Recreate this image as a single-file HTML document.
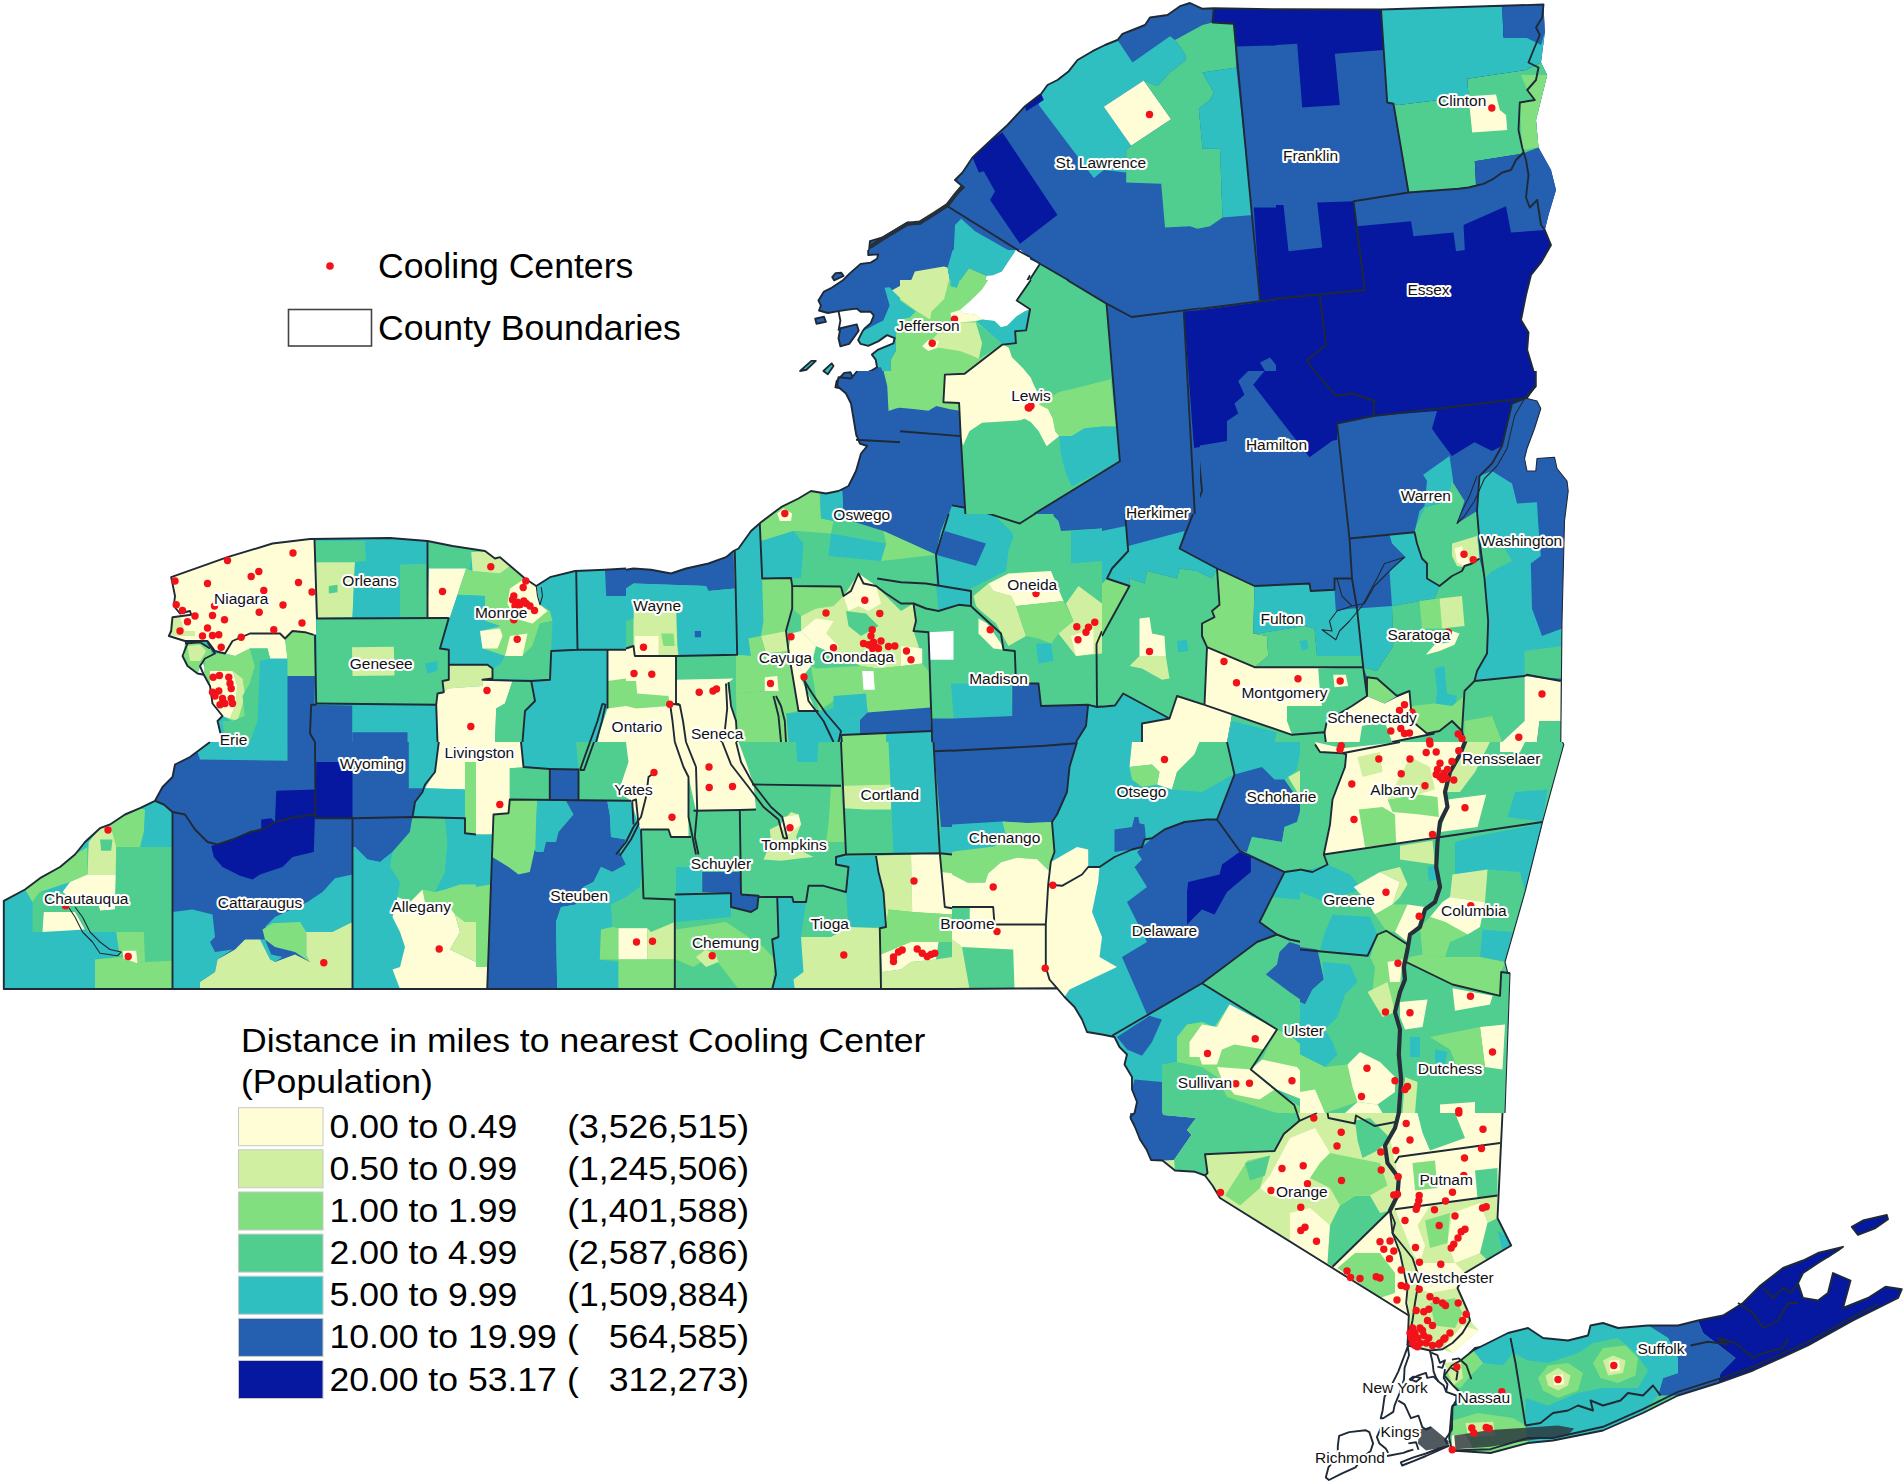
<!DOCTYPE html>
<html><head><meta charset="utf-8">
<style>
html,body{margin:0;padding:0;background:#fff;}
body{width:1904px;height:1484px;overflow:hidden;font-family:"Liberation Sans",sans-serif;}
svg{display:block;position:absolute;left:0;top:0;}
.c1{fill:#fffdd6}.c2{fill:#d0efa0}.c3{fill:#82df80}.c4{fill:#50ce90}.c5{fill:#30bfc0}.c6{fill:#2560b0}.c7{fill:#0618a0}
.w{fill:#fff}
.b{fill:none;stroke:#1f2a36;stroke-width:1.9;stroke-linejoin:round}
.bt{fill:none;stroke:#1f2a36;stroke-width:1.1;stroke-linejoin:round}
.bk{fill:none;stroke:#26303a;stroke-width:4.2;stroke-linejoin:round;stroke-linecap:round}
.dk{fill:#2b353d;opacity:.82}
.d{fill:#f2121a}
.lg{font-size:34px;fill:#000}
.lb{font-size:15.5px;fill:#111;paint-order:stroke;stroke:#fff;stroke-width:4.2px;stroke-linejoin:round;text-anchor:middle}
</style></head><body>
<svg width="1904" height="1484" viewBox="0 0 1904 1484">
<defs><clipPath id="tc"><rect x="-2" y="-2" width="1908" height="1488"/></clipPath></defs>
<clipPath id="cp_A1"><rect x="799.5" y="-0.5" width="477.0" height="372.0"/></clipPath><g clip-path="url(#cp_A1)">
<polygon class="c6" points="1276.0,9.2 1213.8,8.2 1202.5,8.8 1190.0,3.0 1180.0,6.2 1167.5,15.0 1150.0,17.5 1145.0,25.0 1132.5,30.0 1122.5,33.8 1117.5,40.0 1105.0,45.0 1092.5,51.2 1077.5,60.0 1068.8,71.2 1057.5,80.0 1047.5,85.0 1041.2,93.8 1025.0,106.2 1007.5,125.0 992.5,138.8 972.5,157.5 962.5,172.5 955.0,180.0 963.8,187.5 952.5,197.5 947.5,206.2 935.0,212.5 920.0,223.8 907.5,222.5 895.0,230.0 882.5,237.5 870.0,241.2 868.8,252.5 882.5,253.8 872.5,261.2 857.5,268.8 841.2,276.2 820.0,298.8 818.8,302.5 823.8,307.5 830.0,315.0 840.0,327.5 837.5,347.5 850.0,345.0 857.5,335.0 875.0,335.0 875.0,371.0 1276.0,371.0"/>
<polygon class="c5" points="1041.2,93.8 1047.5,85.0 1057.5,80.0 1068.8,71.2 1077.5,60.0 1092.5,51.2 1105.0,45.0 1117.5,40.0 1120.0,43.8 1132.5,62.5 1170.0,36.2 1175.0,40.0 1185.0,53.8 1186.2,60.0 1170.0,72.5 1157.5,86.2 1143.8,80.5 1103.8,106.8 1131.2,145.8 1126.2,150.0 1126.2,172.5 1103.8,170.0 1093.8,178.0 1038.8,105.0"/>
<polygon class="c1" points="1143.8,80.5 1171.2,119.2 1131.2,145.8 1103.8,106.8"/>
<polygon class="c4" points="1175.0,40.0 1202.5,25.0 1212.5,22.5 1233.8,23.8 1236.2,67.5 1202.5,72.5 1213.8,92.5 1210.0,100.0 1198.8,108.8 1202.5,148.8 1220.0,148.8 1222.5,217.5 1210.0,226.2 1197.5,228.8 1190.0,226.2 1165.0,227.5 1161.2,183.8 1126.2,182.5 1126.2,150.0 1131.2,145.8 1171.2,119.2 1143.8,80.5 1157.5,86.2 1170.0,72.5 1186.2,60.0 1185.0,53.8"/>
<polygon class="c5" points="1202.5,72.5 1236.2,67.5 1252.5,215.0 1222.5,217.5 1220.0,148.8 1202.5,148.8 1198.8,108.8 1210.0,100.0 1213.8,92.5"/>
<polygon class="c7" points="972.5,157.5 992.5,138.8 1002.5,132.5 1057.5,215.0 1020.0,243.8 990.0,200.0 995.0,191.2 983.8,171.2 978.8,172.5"/>
<polygon class="c7" points="1025.0,106.2 1041.2,93.8 1043.8,100.0 1026.2,111.2"/>
<polygon class="c7" points="1213.8,8.2 1276.0,9.2 1276.0,45.5 1236.2,46.5 1233.8,23.8 1212.5,22.5"/>
<polygon class="c7" points="1253.8,207.5 1276.0,207.5 1276.0,300.0 1260.0,300.0"/>
<polygon class="c7" points="1182.5,312.5 1276.0,300.0 1276.0,371.0 1188.8,371.0"/>
<polygon class="c6" points="1260.0,362.5 1270.0,357.5 1276.0,365.0 1276.0,371.0 1265.0,371.0"/>
<polygon class="c5" points="961.2,218.8 975.0,231.2 1012.5,252.5 1002.5,265.0 995.0,277.5 987.5,276.2 972.5,268.8 967.5,275.0 957.5,287.5 950.0,282.5 953.8,250.0 955.0,225.0"/>
<polygon class="c2" points="891.2,290.0 920.0,277.5 942.5,266.2 951.2,283.8 943.8,296.2 937.5,308.8 930.0,312.5 912.5,311.2 907.5,303.8"/>
<polygon class="c3" points="943.8,296.2 951.2,283.8 957.5,287.5 967.5,275.0 972.5,268.8 987.5,276.2 982.5,291.2 972.5,300.0 962.5,308.8 952.5,317.5 935.0,318.8 930.0,312.5 937.5,308.8"/>
<polygon class="w" points="1012.5,252.5 1040.0,263.8 1017.5,298.8 1023.8,303.8 1030.0,310.0 1017.5,315.0 1007.5,327.5 997.5,327.5 992.5,318.8 982.5,322.5 975.0,321.2 965.0,320.0 962.5,308.8 972.5,300.0 982.5,291.2 987.5,276.2 995.0,277.5 1002.5,265.0"/>
<polygon class="c5" points="885.0,290.0 891.2,290.0 907.5,303.8 912.5,311.2 900.0,322.5 890.0,335.0 875.0,335.0 860.0,340.0 857.5,335.0 875.0,322.5 885.0,307.5"/>
<polygon class="c3" points="890.0,335.0 900.0,322.5 912.5,311.2 930.0,312.5 935.0,318.8 952.5,317.5 950.0,322.5 975.0,322.5 980.0,355.0 975.0,371.0 890.0,371.0"/>
<polygon class="c2" points="935.0,345.0 950.0,322.5 975.0,322.5 980.0,347.5 985.0,357.5 975.0,362.5 960.0,350.0 940.0,348.8"/>
<polygon class="c4" points="975.0,322.5 992.5,318.8 997.5,327.5 1007.5,327.5 1015.0,342.5 1008.8,346.2 985.0,357.5 980.0,347.5"/>
<polygon class="c5" points="1007.5,327.5 1017.5,315.0 1030.0,310.0 1026.2,325.0 1016.2,330.0 1015.0,342.5"/>
<polygon class="c4" points="1040.0,263.8 1103.8,301.2 1111.2,371.0 1020.0,371.0 1010.0,355.0 1008.8,346.2 1015.0,342.5 1016.2,330.0 1026.2,325.0 1030.0,310.0 1017.5,298.8"/>
<polygon class="c1" points="1008.8,346.2 1010.0,355.0 1020.0,371.0 972.5,371.0"/>
<polyline class="b" points="1276.0,9.2 1213.8,8.2 1202.5,8.8 1190.0,3.0 1180.0,6.2 1167.5,15.0 1150.0,17.5 1145.0,25.0 1132.5,30.0 1122.5,33.8 1117.5,40.0 1105.0,45.0 1092.5,51.2 1077.5,60.0 1068.8,71.2 1057.5,80.0 1047.5,85.0 1041.2,93.8 1025.0,106.2 1007.5,125.0 992.5,138.8 972.5,157.5 962.5,172.5 955.0,180.0 963.8,187.5 952.5,197.5 947.5,206.2 935.0,212.5 920.0,223.8 907.5,222.5 895.0,230.0 882.5,237.5 870.0,241.2 868.8,252.5 882.5,253.8 872.5,261.2 857.5,268.8 841.2,276.2 820.0,298.8 818.8,302.5 823.8,307.5 830.0,315.0 840.0,327.5 837.5,347.5 850.0,345.0 857.5,335.0 875.0,335.0 875.0,371.0"/>
<polyline class="b" points="947.5,206.2 1040.0,263.8 1132.5,317.5 1276.0,299.2"/>
<polyline class="b" points="1213.8,8.2 1212.5,22.5 1233.8,23.8 1260.0,300.0"/>
<polyline class="b" points="1040.0,263.8 1017.5,298.8 1023.8,303.8 1030.0,310.0 1026.2,325.0 1016.2,330.0 1015.0,342.5 1008.8,346.2 972.5,371.0"/>
<polyline class="b" points="1103.8,301.2 1111.2,371.0"/>
<polyline class="b" points="1182.5,312.5 1188.8,371.0"/>
<polyline class="bk" points="871.2,246.2 882.5,238.8 895.0,231.2 907.5,223.8 920.0,222.5 935.0,213.2 947.5,205.0 956.2,193.8 962.0,187.0"/>
</g>
<clipPath id="cp_A1b"><rect x="789.5" y="249.5" width="241.0" height="188.0"/></clipPath><g clip-path="url(#cp_A1b)">
<polygon class="w" points="790.0,250.0 1030.0,250.0 1030.0,437.1 790.0,437.1"/>
<polygon class="c6" points="868.2,250.0 868.2,255.0 878.2,254.4 877.0,258.8 870.7,262.6 860.6,263.9 849.2,273.9 842.9,280.3 831.6,287.8 824.0,291.6 818.4,300.4 820.9,305.5 819.0,310.5 827.8,313.0 838.5,311.1 846.7,309.9 856.8,308.6 860.6,311.8 870.7,311.8 873.8,315.5 870.7,323.1 864.4,328.8 862.5,331.3 858.1,340.1 860.6,343.9 868.2,345.8 878.2,341.4 887.1,335.1 894.6,338.2 893.4,343.3 878.2,349.6 871.9,354.6 875.7,359.7 877.0,367.2 870.7,371.0 858.1,376.1 854.9,381.7 850.5,372.3 844.2,372.9 836.6,381.1 835.4,387.4 842.9,388.7 850.5,396.2 853.0,407.6 856.8,437.1 1030.0,437.1 1030.0,250.0"/>
<polygon class="c6" points="840.4,328.2 856.8,324.4 858.7,330.7 849.2,343.9 840.4,346.4 838.5,338.2"/>
<polygon class="c6" points="815.2,318.7 824.0,316.8 825.9,321.8 816.5,323.7"/>
<polygon class="c6" points="832.2,277.1 835.4,273.3 841.1,272.7 843.6,275.8 834.1,280.3"/>
<polygon class="c5" points="800.1,371.0 811.4,360.9 815.8,360.9 806.4,369.7"/>
<polygon class="c5" points="823.4,371.0 831.6,363.4 833.5,366.0 827.8,374.2"/>
<polygon class="c5" points="884.5,287.8 889.6,287.2 898.4,296.6 913.5,309.2 911.0,313.0 900.9,320.6 897.1,325.6 895.9,335.7 894.6,338.2 887.1,335.1 878.2,341.4 868.2,345.8 860.6,343.9 858.1,340.1 862.5,331.3 870.7,326.9 878.2,323.1 883.3,320.6 889.6,305.5"/>
<polygon class="c5" points="894.6,338.2 895.9,335.7 895.9,350.8 890.8,359.7 890.8,371.0 883.3,372.9 880.8,367.2 877.0,367.2 875.7,359.7 871.9,354.6 878.2,349.6 893.4,343.3"/>
<polygon class="c2" points="892.1,290.3 911.6,279.6 914.8,271.4 943.8,266.4 947.6,267.6 950.1,281.5 943.8,289.1 940.0,302.9 931.2,311.8 930.5,316.8 918.6,316.8 913.5,309.2 898.4,296.6"/>
<polygon class="c5" points="947.6,267.6 950.1,281.5 955.1,286.6 960.2,280.3 969.0,268.3 986.6,275.8 992.9,275.2 1001.8,271.4 1009.3,260.1 1014.4,252.5 1015.6,250.0 952.6,250.0"/>
<polygon class="c3" points="950.1,281.5 955.1,286.6 960.2,280.3 969.0,268.3 986.6,275.8 984.1,285.3 979.1,291.6 971.5,300.4 963.9,308.0 952.6,310.5 947.6,315.5 940.0,315.5 930.5,316.8 931.2,311.8 940.0,302.9 943.8,289.1"/>
<polygon class="w" points="1015.6,250.0 1020.7,250.0 1030.0,257.6 1030.0,275.2 1016.9,300.4 1025.7,305.5 1024.5,311.8 1016.9,315.5 1009.3,321.8 1006.8,328.2 996.7,329.4 991.7,320.6 984.1,320.6 975.3,316.8 963.9,315.5 957.6,313.0 963.9,308.0 971.5,300.4 979.1,291.6 984.1,285.3 986.6,275.8 992.9,275.2 1001.8,271.4 1009.3,260.1 1014.4,252.5"/>
<polygon class="c6" points="1020.7,250.0 1030.0,250.0 1030.0,257.6"/>
<polygon class="c3" points="895.9,335.7 897.1,325.6 900.9,320.6 911.0,313.0 918.6,316.8 930.5,316.8 940.0,315.5 947.6,315.5 950.1,320.6 928.7,333.2 927.4,338.2 922.4,345.8 927.4,350.8 933.7,349.6 940.0,347.1 953.9,348.3 969.0,352.1 977.8,358.4 979.1,358.4 966.5,372.9 945.0,373.5 943.2,401.9 950.7,403.2 950.1,410.1 938.7,406.3 931.2,406.9 926.1,410.1 900.9,407.6 890.8,410.1 888.3,401.3 889.6,392.4 883.3,383.6 883.3,372.9 890.8,371.0 890.8,359.7 895.9,350.8"/>
<polygon class="c1" points="950.1,313.0 953.9,310.5 957.6,313.0 963.9,315.5 957.6,320.6 950.1,320.6"/>
<polygon class="c2" points="957.6,320.6 963.9,315.5 975.3,316.8 976.6,330.7 981.6,350.8 977.8,358.4 969.0,352.1 953.9,348.3 940.0,347.1 933.7,349.6 940.0,340.8 927.4,338.2 928.7,333.2 950.1,320.6"/>
<polygon class="c1" points="922.4,345.8 927.4,338.2 940.0,340.8 933.7,349.6 927.4,350.8"/>
<polygon class="c4" points="975.3,323.1 984.1,320.6 991.7,320.6 996.7,329.4 1004.3,340.8 1006.8,344.5 994.2,349.6 979.1,358.4 977.8,358.4 981.6,350.8 976.6,330.7 975.3,316.8"/>
<polygon class="c5" points="996.7,329.4 1006.8,328.2 1009.3,321.8 1016.9,315.5 1025.7,313.0 1026.3,330.7 1015.6,333.2 1015.6,343.9 1006.8,344.5 1004.3,340.8"/>
<polygon class="c1" points="945.0,373.5 966.5,372.9 1003.0,345.2 1009.3,349.6 1011.8,363.4 1020.7,368.5 1030.0,373.5 1030.0,418.9 982.9,422.7 969.0,437.1 961.4,437.1 958.9,403.8 943.2,401.9"/>
<polygon class="c4" points="1003.0,345.2 1015.6,343.9 1015.6,333.2 1026.3,330.7 1025.7,305.5 1016.9,300.4 1030.0,275.2 1030.0,373.5 1020.7,368.5 1011.8,363.4 1009.3,349.6"/>
<polygon class="c4" points="969.0,437.1 982.9,422.7 1030.0,418.9 1030.0,437.1"/>
<polyline class="b" points="868.2,250.0 868.2,255.0 878.2,254.4 877.0,258.8 870.7,262.6 860.6,263.9 849.2,273.9 842.9,280.3 831.6,287.8 824.0,291.6 818.4,300.4 820.9,305.5 819.0,310.5 827.8,313.0 838.5,311.1 846.7,309.9 856.8,308.6 860.6,311.8 870.7,311.8 873.8,315.5 870.7,323.1 864.4,328.8 862.5,331.3 858.1,340.1 860.6,343.9 868.2,345.8 878.2,341.4 887.1,335.1 894.6,338.2 893.4,343.3 878.2,349.6 871.9,354.6 875.7,359.7 877.0,367.2 870.7,371.0 858.1,376.1 854.9,381.7 850.5,372.3 844.2,372.9 836.6,381.1 835.4,387.4 842.9,388.7 850.5,396.2 853.0,407.6 856.8,437.1"/>
<polyline class="b" points="838.5,311.1 840.4,320.6 838.5,330.7"/>
<polygon class="b" points="840.4,328.2 856.8,324.4 858.7,330.7 849.2,343.9 840.4,346.4 838.5,338.2"/>
<polygon class="b" points="815.2,318.7 824.0,316.8 825.9,321.8 816.5,323.7"/>
<polygon class="b" points="832.2,277.1 835.4,273.3 841.1,272.7 843.6,275.8 834.1,280.3"/>
<polygon class="b" points="800.1,371.0 811.4,360.9 815.8,360.9 806.4,369.7"/>
<polygon class="b" points="823.4,371.0 831.6,363.4 833.5,366.0 827.8,374.2"/>
<polyline class="b" points="1030.0,275.2 1016.9,300.4 1025.7,305.5 1026.3,330.7 1015.6,333.2 1015.6,343.9 1003.0,345.2 966.5,372.9 945.0,373.5 943.2,401.9 958.9,403.8 961.4,437.1"/>
<polyline class="b" points="900.9,437.1 900.9,430.9 958.9,432.1"/>
<polyline class="b" points="1016.9,250.0 1030.0,256.9"/>
</g>
<clipPath id="cp_A2"><rect x="1275.5" y="-0.5" width="477.0" height="372.0"/></clipPath><g clip-path="url(#cp_A2)">
<polygon class="c7" points="1276.0,9.2 1381.0,9.5 1543.5,4.5 1544.8,32.5 1541.0,62.5 1547.2,75.0 1541.0,100.0 1536.0,120.0 1538.5,147.5 1551.0,170.0 1556.0,190.0 1548.5,215.0 1544.8,230.0 1551.0,245.0 1541.0,262.5 1531.0,275.0 1526.0,295.0 1521.0,320.0 1528.5,332.5 1527.2,350.0 1533.5,371.0 1276.0,371.0"/>
<polygon class="c6" points="1276.0,45.0 1297.2,43.8 1302.2,107.5 1339.8,105.0 1334.8,53.8 1383.5,50.0 1387.2,102.5 1393.5,103.8 1408.5,192.5 1353.5,201.2 1317.2,202.5 1322.2,247.5 1288.5,251.2 1283.5,205.0 1276.0,205.0"/>
<polygon class="c6" points="1353.5,201.2 1408.5,192.5 1458.5,188.8 1468.5,187.5 1483.5,183.8 1493.5,178.8 1502.2,172.5 1511.0,170.0 1516.0,160.0 1523.5,152.5 1538.5,147.5 1551.0,170.0 1556.0,190.0 1548.5,215.0 1544.8,230.0 1511.0,232.5 1506.0,206.2 1463.5,225.0 1464.8,250.0 1456.0,251.2 1453.5,232.5 1413.5,236.2 1411.0,221.2 1357.2,226.2"/>
<polygon class="c5" points="1381.0,9.5 1502.2,6.2 1503.5,37.5 1526.0,37.5 1544.8,32.5 1541.0,62.5 1526.0,70.0 1467.2,78.8 1468.5,96.2 1398.5,105.0 1393.5,103.8 1387.2,102.5"/>
<polygon class="c6" points="1502.2,6.2 1543.5,4.5 1544.8,32.5 1541.0,45.0 1526.0,37.5 1503.5,37.5"/>
<polygon class="c4" points="1398.5,105.0 1468.5,96.2 1467.2,78.8 1526.0,70.0 1541.0,62.5 1547.2,75.0 1541.0,100.0 1536.0,120.0 1538.5,147.5 1522.2,153.8 1474.8,161.2 1476.0,185.0 1468.5,187.5 1458.5,188.8 1408.5,192.5 1393.5,103.8"/>
<polygon class="c3" points="1521.0,75.0 1547.2,75.0 1541.0,100.0 1536.0,120.0 1538.5,147.5 1522.2,150.0 1519.8,102.5 1534.8,100.0 1527.2,90.0"/>
<polygon class="c6" points="1474.8,161.2 1522.2,153.8 1523.5,152.5 1516.0,160.0 1511.0,170.0 1502.2,172.5 1493.5,178.8 1483.5,183.8 1476.0,185.0"/>
<polygon class="c1" points="1468.5,96.2 1496.0,94.5 1499.8,110.0 1506.0,115.0 1507.2,130.0 1472.2,132.5"/>
<polyline class="b" points="1276.0,9.2 1381.0,9.5 1543.5,4.5 1542.2,17.5 1536.0,27.5 1539.8,35.0 1533.5,50.0 1528.5,62.5 1538.5,67.5 1536.0,80.0 1527.2,90.0 1534.8,100.0 1519.8,102.5 1518.5,130.0 1522.2,147.5 1526.0,160.0 1528.5,175.0 1526.0,197.5 1529.8,207.5 1537.2,200.0 1541.0,225.0 1544.8,230.0 1551.0,245.0 1541.0,262.5 1531.0,275.0 1526.0,295.0 1521.0,320.0 1528.5,332.5 1527.2,350.0 1533.5,371.0"/>
<polyline class="b" points="1381.0,9.5 1387.2,102.5 1393.5,103.8 1408.5,192.5 1458.5,188.8 1468.5,187.5 1483.5,183.8 1493.5,178.8 1502.2,172.5 1511.0,170.0 1516.0,160.0 1523.5,152.5"/>
<polyline class="b" points="1408.5,192.5 1353.5,201.2 1364.8,290.0 1276.0,298.8"/>
<polyline class="b" points="1319.8,296.2 1326.0,345.0 1307.2,360.0 1313.5,371.0"/>
</g>
<clipPath id="cp_B1"><rect x="149.5" y="370.5" width="477.0" height="372.0"/></clipPath><g clip-path="url(#cp_B1)">
<polygon class="c5" points="171.2,577.2 227.5,557.2 272.5,543.5 310.0,539.0 350.0,538.5 390.0,538.0 427.5,541.0 452.5,546.0 485.0,551.0 495.0,558.5 500.0,557.2 525.0,578.5 536.2,586.0 550.0,577.2 575.0,571.0 605.0,569.8 626.0,568.5 626.0,742.0 222.5,742.0 217.5,721.0 222.5,716.0 212.5,703.5 210.0,686.0 202.5,661.0 197.5,673.5 187.5,666.0 182.5,656.0 187.5,643.5 185.0,641.0 168.8,636.0 171.2,631.0 172.5,617.2 191.2,614.8 190.0,611.0 180.0,613.5 173.8,606.0 175.0,596.0"/>
<polygon class="c1" points="171.2,577.2 227.5,557.2 272.5,543.5 310.0,539.0 314.5,539.8 316.2,634.8 305.0,632.2 292.5,631.0 285.0,638.5 280.0,633.5 250.0,633.5 232.5,641.0 225.0,653.5 215.0,651.0 207.5,641.0 185.0,641.0 168.8,636.0 171.2,631.0 172.5,617.2 191.2,614.8 190.0,611.0 180.0,613.5 173.8,606.0 175.0,596.0"/>
<polygon class="c2" points="171.2,617.2 180.0,617.2 185.0,631.0 195.0,631.0 195.0,636.0 168.8,636.0"/>
<polygon class="c1" points="225.0,653.5 232.5,641.0 250.0,633.5 280.0,633.5 285.0,638.5 287.5,658.5 270.0,658.5 267.5,648.5 250.0,648.5 235.0,656.0"/>
<polygon class="c3" points="285.0,638.5 292.5,631.0 305.0,632.2 313.8,634.8 315.0,676.0 287.5,676.0 287.5,658.5"/>
<polygon class="c3" points="185.0,643.5 200.0,642.2 210.0,648.5 212.5,656.0 200.0,666.0 197.5,673.5 187.5,666.0 182.5,656.0"/>
<polygon class="c2" points="187.5,646.0 200.0,644.8 206.2,651.0 200.0,661.0 190.0,661.0"/>
<polygon class="c3" points="203.8,674.8 205.0,658.5 215.0,653.5 225.0,653.5 235.0,656.0 250.0,648.5 255.0,666.0 250.0,683.5 242.5,696.0 245.0,716.0 232.5,721.0 222.5,716.0 212.5,703.5 210.0,686.0"/>
<polygon class="c1" points="210.0,671.0 232.5,671.0 237.5,686.0 235.0,706.0 230.0,718.5 222.5,716.0 212.5,703.5 210.0,686.0"/>
<polygon class="c2" points="232.5,671.0 242.5,678.5 245.0,696.0 237.5,721.0 230.0,718.5 235.0,706.0 237.5,686.0"/>
<polygon class="c4" points="250.0,648.5 267.5,648.5 270.0,658.5 260.0,661.0 257.5,721.0 250.0,742.0 225.0,742.0 222.5,721.0 232.5,721.0 245.0,716.0 242.5,696.0 250.0,683.5 255.0,666.0"/>
<polygon class="c6" points="287.5,676.0 315.0,676.0 313.8,742.0 287.5,742.0"/>
<polygon class="c4" points="315.0,541.0 365.0,541.0 366.2,561.0 355.0,562.2 316.2,562.2"/>
<polygon class="c2" points="316.2,562.2 355.0,562.2 352.5,617.2 317.0,618.0"/>
<polygon class="c5" points="365.0,541.0 426.2,541.0 426.2,563.5 400.0,564.8 400.0,617.2 352.5,617.2 355.0,562.2 366.2,561.0"/>
<polygon class="c4" points="400.0,564.8 426.2,563.5 427.5,617.2 400.0,617.2"/>
<polygon class="c4" points="328.8,586.0 337.5,584.8 337.5,592.2 328.8,593.5"/>
<polygon class="c4" points="317.0,618.5 448.8,618.0 440.0,648.5 448.8,649.8 448.8,679.8 442.5,681.0 443.8,692.2 437.5,693.5 436.2,704.8 316.2,703.5"/>
<polygon class="c2" points="352.0,647.2 393.8,646.8 394.5,675.5 352.5,676.0"/>
<polygon class="c5" points="425.0,663.5 437.5,661.0 437.5,671.0 427.5,673.5"/>
<polygon class="c6" points="311.2,704.8 352.5,705.5 352.5,742.0 315.0,742.0 310.0,733.5"/>
<polygon class="c5" points="352.5,705.5 436.2,704.8 437.5,742.0 407.5,742.0 407.5,732.2 352.5,732.2"/>
<polygon class="c6" points="352.5,732.2 407.5,732.2 407.5,742.0 352.5,742.0"/>
<polygon class="c4" points="427.5,542.2 452.5,546.0 485.0,551.0 472.5,552.2 470.0,568.5 428.8,568.5"/>
<polygon class="c1" points="428.8,568.5 466.2,568.5 450.0,617.2 427.5,617.2"/>
<polygon class="c3" points="466.2,568.5 472.5,571.0 500.0,573.5 510.0,566.0 525.0,578.5 536.2,586.0 540.0,604.8 550.0,611.0 552.5,621.0 540.0,623.5 532.5,646.0 522.5,656.0 505.0,656.0 482.5,648.5 480.0,631.0 500.0,626.0 485.0,621.0 485.0,596.0 457.5,594.8 450.0,617.2"/>
<polygon class="c2" points="471.2,552.2 485.0,551.0 495.0,558.5 500.0,557.2 510.0,566.0 500.0,573.5 472.5,571.0"/>
<polygon class="c5" points="450.0,617.2 457.5,594.8 485.0,596.0 485.0,621.0 500.0,626.0 480.0,631.0 482.5,648.5 505.0,656.0 500.0,664.8 448.8,664.8 448.8,649.8 440.0,648.5 448.8,618.0"/>
<polygon class="c1" points="510.0,588.5 525.0,578.5 536.2,586.0 540.0,604.8 547.5,611.0 532.5,623.5 515.0,618.5 507.5,603.5"/>
<polygon class="c1" points="480.0,631.0 500.0,628.5 502.5,636.0 497.5,648.5 482.5,648.5"/>
<polygon class="c1" points="510.0,636.0 527.5,633.5 522.5,656.0 505.0,656.0"/>
<polygon class="c4" points="492.5,668.5 500.0,664.8 505.0,656.0 522.5,656.0 532.5,646.0 540.0,623.5 552.5,621.0 551.2,651.0 550.0,679.8 492.5,678.5"/>
<polygon class="c6" points="605.0,569.8 626.0,568.5 626.0,596.0 606.2,596.0"/>
<polygon class="c2" points="448.8,664.8 487.5,664.8 492.5,668.5 492.5,678.5 482.5,679.8 482.5,686.0 447.5,688.5 443.8,692.2 442.5,681.0 448.8,679.8"/>
<polygon class="c1" points="437.5,693.5 443.8,692.2 447.5,688.5 482.5,686.0 482.5,679.8 512.5,681.0 505.0,703.5 496.2,708.5 495.0,742.0 437.5,742.0 436.2,704.8"/>
<polygon class="c4" points="512.5,681.0 531.2,681.0 535.0,701.0 525.0,711.0 522.5,742.0 495.0,742.0 496.2,708.5 505.0,703.5"/>
<polygon class="c1" points="607.5,649.8 626.0,649.8 626.0,742.0 597.5,742.0 600.0,731.0 607.5,708.5"/>
<polygon class="c3" points="607.5,681.0 626.0,678.5 626.0,706.0 607.5,708.5"/>
<polyline class="b" points="222.5,742.0 217.5,721.0 222.5,716.0 212.5,703.5 210.0,686.0 203.8,674.8 197.5,673.5 187.5,666.0 182.5,656.0 187.5,643.5 185.0,641.0 168.8,636.0 171.2,631.0 172.5,617.2 191.2,614.8 190.0,611.0 180.0,613.5 173.8,606.0 175.0,596.0 171.2,577.2 227.5,557.2 272.5,543.5 310.0,539.0 350.0,538.5 390.0,538.0 427.5,541.0 452.5,546.0 485.0,551.0 495.0,558.5 500.0,557.2 525.0,578.5 536.2,586.0 550.0,577.2 575.0,571.0 605.0,569.8 626.0,568.5"/>
<polyline class="b" points="185.0,641.0 207.5,641.0 215.0,651.0 225.0,653.5 232.5,641.0 250.0,633.5 280.0,633.5 285.0,638.5 292.5,631.0 305.0,632.2 313.8,634.8"/>
<polyline class="b" points="207.5,642.2 215.0,653.5 205.0,658.5 200.0,666.0 203.8,674.8"/>
<polyline class="b" points="185.0,643.5 200.0,642.2 210.0,648.5"/>
<polyline class="b" points="314.5,539.8 317.0,618.5 448.8,618.0"/>
<polyline class="b" points="315.0,634.8 316.2,704.8"/>
<polyline class="b" points="427.5,541.0 427.5,617.2"/>
<polyline class="b" points="448.8,618.0 440.0,648.5 448.8,649.8 448.8,679.8 442.5,681.0 443.8,692.2 437.5,693.5 436.2,704.8 437.5,742.0"/>
<polyline class="b" points="316.2,703.5 436.2,704.8"/>
<polyline class="b" points="316.2,704.8 311.2,704.8 310.0,733.5 315.0,742.0"/>
<polyline class="b" points="448.8,664.8 487.5,664.8 492.5,668.5 492.5,678.5 482.5,679.8 531.2,681.0 550.0,679.8 551.2,651.0 577.5,649.8 576.2,571.0"/>
<polyline class="b" points="577.5,649.8 626.0,649.8"/>
<polyline class="b" points="607.5,649.8 607.5,708.5"/>
<polyline class="b" points="531.2,681.0 535.0,701.0 525.0,711.0 522.5,742.0"/>
<polyline class="bt" points="536.2,586.0 537.5,596.0 540.0,604.8 542.5,596.0 541.2,587.2"/>
<polyline class="b" points="602.5,703.5 597.5,721.0 590.0,742.0"/>
<polyline class="b" points="602.5,703.5 605.5,704.8 602.0,721.0 596.0,742.0"/>
</g>
<clipPath id="cp_B2"><rect x="625.5" y="370.5" width="477.0" height="372.0"/></clipPath><g clip-path="url(#cp_B2)">
<polygon class="c4" points="857.2,371.0 851.0,378.5 838.5,377.2 837.2,386.0 846.0,393.5 851.0,403.5 856.0,433.5 859.8,443.5 867.2,446.0 861.0,453.5 856.0,471.0 848.5,486.0 838.5,491.0 826.0,493.5 811.0,491.0 798.5,498.5 781.0,507.2 761.0,522.2 751.0,531.0 738.5,548.5 733.5,551.0 726.0,557.2 708.5,563.5 686.0,568.5 671.0,573.5 651.0,569.8 633.5,568.5 626.0,569.8 626.0,742.0 1102.0,742.0 1102.0,371.0"/>
<polygon class="c3" points="883.5,371.0 944.8,371.0 943.5,403.5 929.8,407.2 921.0,411.0 908.5,406.0 896.0,408.5 888.5,411.0 887.2,386.0"/>
<polygon class="c6" points="857.2,371.0 883.5,371.0 887.2,386.0 888.5,411.0 896.0,408.5 908.5,406.0 921.0,411.0 929.8,407.2 943.5,403.5 959.8,403.5 964.8,506.0 951.0,506.0 941.0,531.0 936.0,554.8 883.5,531.0 843.5,518.5 842.2,491.0 838.5,491.0 848.5,486.0 856.0,471.0 861.0,453.5 867.2,446.0 859.8,443.5 856.0,433.5 851.0,403.5 846.0,393.5 837.2,386.0 838.5,377.2 851.0,378.5"/>
<polygon class="c1" points="944.8,371.0 1026.0,371.0 1038.5,403.5 1051.0,411.0 1058.5,438.5 1048.5,446.0 1023.5,418.5 981.0,423.5 962.2,433.5 959.8,403.5 943.5,403.5"/>
<polygon class="c3" points="1026.0,371.0 1102.0,371.0 1102.0,428.5 1086.0,431.0 1058.5,438.5 1051.0,411.0 1038.5,403.5"/>
<polygon class="c5" points="1058.5,438.5 1086.0,431.0 1102.0,428.5 1102.0,468.5 1073.5,481.0 1048.5,446.0"/>
<polygon class="c6" points="1053.5,503.5 1102.0,472.2 1102.0,528.5 1061.0,531.0 1058.5,521.0 1053.5,516.0"/>
<polygon class="c5" points="951.0,506.0 964.8,506.0 993.5,514.8 1011.0,531.0 1013.5,536.0 1008.5,551.0 1006.0,571.0 971.0,588.5 971.0,606.0 958.5,604.8 938.5,611.0 936.0,586.0 936.0,554.8 941.0,531.0"/>
<polygon class="c6" points="944.8,531.0 986.0,543.5 976.0,566.0 936.0,554.8"/>
<polygon class="c5" points="1071.0,531.0 1102.0,528.5 1102.0,561.0 1071.0,563.5"/>
<polygon class="c2" points="973.5,596.0 988.5,583.5 993.5,591.0 1011.0,596.0 1016.0,606.0 1026.0,636.0 1008.5,646.0 996.0,623.5 981.0,611.0 976.0,606.0"/>
<polygon class="c1" points="988.5,583.5 1008.5,573.5 1051.0,571.0 1056.0,583.5 1063.5,601.0 1016.0,606.0 1011.0,596.0 993.5,591.0"/>
<polygon class="c3" points="1016.0,606.0 1063.5,601.0 1073.5,621.0 1058.5,633.5 1051.0,643.5 1038.5,638.5 1026.0,636.0"/>
<polygon class="c2" points="1066.0,603.5 1078.5,586.0 1102.0,603.5 1102.0,653.5 1076.0,656.0 1058.5,633.5 1073.5,621.0"/>
<polygon class="c1" points="1071.0,636.0 1093.5,628.5 1093.5,653.5 1076.0,656.0"/>
<polygon class="c1" points="978.5,618.5 987.2,623.5 1001.0,643.5 1003.5,649.8 993.5,648.5 978.5,633.5"/>
<polygon class="w" points="928.5,632.2 953.5,631.0 953.5,659.8 929.8,659.8"/>
<polygon class="c5" points="951.0,683.5 1011.0,683.5 1012.2,716.0 953.5,718.5"/>
<polygon class="c6" points="1012.2,683.5 1038.5,683.5 1041.0,706.0 1088.5,704.8 1086.0,726.0 1076.0,742.0 932.2,742.0 931.5,718.5 953.5,718.5 1012.2,716.0"/>
<polygon class="c5" points="1036.0,643.5 1051.0,643.5 1053.5,661.0 1038.5,663.5"/>
<polygon class="c5" points="1088.5,704.8 1102.0,706.0 1102.0,742.0 1076.0,742.0 1086.0,726.0"/>
<polygon class="c3" points="759.8,523.5 781.0,507.2 798.5,498.5 811.0,491.0 819.8,493.5 821.0,518.5 833.5,521.0 831.0,533.5 798.5,531.0 793.5,531.0 761.0,541.0"/>
<polygon class="c3" points="883.5,531.0 936.0,554.8 881.0,561.0 886.0,543.5"/>
<polygon class="c5" points="819.8,493.5 842.2,491.0 843.5,518.5 833.5,521.0 821.0,518.5"/>
<polygon class="c5" points="831.0,533.5 886.0,543.5 881.0,561.0 828.5,556.0"/>
<polygon class="c5" points="761.0,541.0 793.5,531.0 803.5,543.5 801.0,578.0 762.2,578.5"/>
<polygon class="c1" points="777.2,513.5 783.5,508.5 792.2,513.5 791.0,521.0 779.8,521.0"/>
<polygon class="c6" points="626.0,569.8 633.5,568.5 651.0,569.8 671.0,573.5 686.0,568.5 708.5,563.5 726.0,557.2 733.5,551.0 734.8,588.5 708.5,591.0 706.0,586.0 633.5,583.5 626.0,588.5"/>
<polygon class="c5" points="633.5,583.5 706.0,586.0 708.5,591.0 734.8,588.5 736.0,654.8 678.5,656.0 676.0,606.0 633.5,603.5"/>
<polygon class="c2" points="633.5,603.5 676.0,606.0 677.2,646.0 678.5,656.0 634.8,656.0 633.5,646.0"/>
<polygon class="c1" points="634.8,636.0 658.5,636.0 658.5,656.0 634.8,656.0"/>
<polygon class="c3" points="661.0,633.5 673.5,633.5 674.8,646.0 663.5,646.0"/>
<polygon class="c5" points="626.0,588.5 633.5,583.5 633.5,618.5 626.0,621.0"/>
<polygon class="c6" points="694.8,631.0 701.0,631.0 701.0,637.2 694.8,637.2"/>
<polygon class="c5" points="736.0,551.0 738.5,548.5 751.0,531.0 759.8,523.5 762.2,578.5 763.5,621.0 761.0,636.0 748.5,638.5 751.0,656.0 736.0,654.8"/>
<polygon class="c3" points="762.2,578.5 791.0,578.0 792.2,586.0 792.2,608.5 786.0,631.0 761.0,636.0 763.5,621.0"/>
<polygon class="c2" points="761.0,636.0 786.0,631.0 788.5,651.0 766.0,653.5"/>
<polygon class="c3" points="736.0,654.8 751.0,656.0 748.5,638.5 761.0,636.0 766.0,653.5 788.5,651.0 798.5,711.0 786.0,713.5 776.0,696.0 766.0,691.0 736.0,693.5"/>
<polygon class="c1" points="764.8,677.2 777.2,676.0 778.5,691.0 764.8,691.0"/>
<polygon class="c1" points="791.0,633.5 801.0,631.0 816.0,646.0 811.0,666.0 801.0,678.5 816.0,711.0 798.5,711.0 788.5,651.0"/>
<polygon class="c3" points="792.2,586.0 841.0,586.5 843.5,596.0 833.5,606.0 816.0,608.5 801.0,616.0 792.2,608.5"/>
<polygon class="c2" points="801.0,616.0 816.0,608.5 833.5,606.0 843.5,596.0 858.5,573.5 876.0,586.0 886.0,596.0 901.0,611.0 913.5,603.5 916.0,621.0 913.5,631.0 918.5,646.0 922.2,663.5 901.0,666.0 878.5,668.5 861.0,666.0 833.5,653.5 816.0,646.0 801.0,631.0"/>
<polygon class="c1" points="858.5,573.5 876.0,586.0 881.0,603.5 868.5,611.0 858.5,606.0 848.5,611.0 843.5,596.0 851.0,591.0"/>
<polygon class="c1" points="801.0,631.0 816.0,646.0 833.5,653.5 838.5,646.0 826.0,633.5 833.5,621.0 816.0,618.5"/>
<polygon class="c1" points="901.0,646.0 922.2,648.5 922.2,663.5 901.0,666.0"/>
<polygon class="c4" points="846.0,611.0 866.0,613.5 878.5,626.0 861.0,636.0 848.5,626.0"/>
<polygon class="c3" points="816.0,668.5 861.0,666.0 878.5,668.5 901.0,666.0 922.2,663.5 928.5,671.0 929.8,708.5 868.5,713.5 866.0,703.5 833.5,701.0 818.5,711.0 811.0,666.0"/>
<polygon class="c5" points="833.5,696.0 866.0,693.5 867.5,712.5 860.0,720.0 838.5,718.5 833.5,708.5"/>
<polygon class="c6" points="860.0,720.0 867.5,712.5 930.0,707.5 931.0,731.0 860.0,734.5"/>
<polygon class="c3" points="841.2,735.0 886.0,733.0 886.0,742.0 841.2,742.0"/>
<polygon class="c5" points="886.0,733.0 932.5,731.0 932.5,742.0 886.0,742.0"/>
<polygon class="w" points="862.2,671.0 873.5,671.0 874.8,689.8 863.5,689.8"/>
<polygon class="c1" points="626.0,648.5 633.5,646.0 634.8,656.0 676.0,656.0 676.0,703.5 679.8,704.8 686.0,742.0 626.0,742.0"/>
<polygon class="c3" points="626.0,681.0 636.0,681.0 637.2,693.5 668.5,696.0 669.8,706.0 636.0,708.5 626.0,706.0"/>
<polygon class="c4" points="676.0,656.0 736.0,654.8 733.5,678.5 676.0,679.8"/>
<polygon class="c1" points="676.0,679.8 733.5,678.5 727.2,683.5 731.0,706.0 736.0,721.0 737.2,742.0 686.0,742.0 679.8,704.8 676.0,703.5"/>
<polygon class="c5" points="786.0,713.5 818.5,711.0 833.5,708.5 838.5,718.5 860.0,720.0 860.0,734.5 841.2,735.0 841.2,742.0 788.5,742.0"/>
<polygon class="c3" points="736.0,693.5 766.0,691.0 776.0,696.0 786.0,713.5 788.5,742.0 737.2,742.0"/>
<polyline class="b" points="857.2,371.0 851.0,378.5 838.5,377.2 837.2,386.0 846.0,393.5 851.0,403.5 856.0,433.5 859.8,443.5 867.2,446.0 861.0,453.5 856.0,471.0 848.5,486.0 838.5,491.0 826.0,493.5 811.0,491.0 798.5,498.5 781.0,507.2 761.0,522.2 751.0,531.0 738.5,548.5 733.5,551.0 726.0,557.2 708.5,563.5 686.0,568.5 671.0,573.5 651.0,569.8 633.5,568.5 626.0,569.8"/>
<polyline class="b" points="856.0,439.8 901.0,442.2 902.2,431.0 961.0,435.5"/>
<polyline class="b" points="944.8,371.0 943.5,403.5 959.8,403.5 964.8,506.0 951.0,506.0 936.0,554.8 938.5,586.0"/>
<polyline class="b" points="964.8,506.0 1019.8,523.5 1102.0,471.0"/>
<polyline class="b" points="734.8,551.0 737.2,654.8 676.0,656.0 676.0,703.5 679.8,704.8 683.0,721.0 686.0,742.0"/>
<polyline class="b" points="670.0,703.5 672.5,721.0 674.8,742.0"/>
<polyline class="b" points="626.0,648.5 633.5,646.0 634.8,656.0 676.0,656.0"/>
<polyline class="b" points="668.5,703.5 679.8,704.8"/>
<polyline class="b" points="759.8,523.5 762.2,578.5 791.0,578.0 792.2,586.0 841.0,586.5"/>
<polyline class="b" points="792.2,586.0 792.2,608.5 786.0,631.0 788.5,651.0 798.5,711.0 818.5,711.0"/>
<polyline class="b" points="841.0,586.5 843.5,596.0 851.0,591.0 858.5,573.5 863.5,583.5 876.0,586.0 886.0,593.5 901.0,603.5 913.5,603.5 916.0,621.0 913.5,631.0 928.5,632.2 932.2,742.0"/>
<polyline class="b" points="877.2,578.5 901.0,582.2 926.0,583.5 971.0,591.0 971.0,606.0 958.5,604.8 938.5,611.0 926.0,608.5 913.5,603.5"/>
<polyline class="b" points="971.0,606.0 973.5,608.5 1001.0,633.5 1003.5,649.8 1014.8,651.0 1016.0,683.5 1038.5,683.5 1041.0,706.0 1088.5,704.8 1097.0,707.0"/>
<polyline class="b" points="1102.0,631.0 1096.5,644.0 1097.0,707.0 1102.0,706.5"/>
<polyline class="b" points="1088.2,704.0 1086.0,726.0 1076.0,742.0"/>
<polyline class="b" points="841.2,735.0 932.5,731.0"/>
<polyline class="b" points="841.2,735.0 841.8,742.0"/>
<polyline class="b" points="802.2,677.2 812.2,693.5 826.0,713.5 841.0,731.0 838.5,742.0"/>
<polyline class="b" points="804.8,681.0 808.5,701.0 823.5,721.0 833.5,742.0"/>
<polyline class="b" points="776.0,696.0 781.0,706.0 784.8,721.0 786.0,742.0"/>
<polyline class="b" points="773.5,696.0 778.5,716.0 781.0,742.0"/>
<polyline class="b" points="728.5,682.2 731.0,706.0 736.0,721.0 737.2,742.0"/>
<polyline class="b" points="726.0,683.5 727.2,708.5 724.8,731.0 721.0,742.0"/>
</g>
<clipPath id="cp_B3"><rect x="1101.5" y="370.5" width="477.0" height="372.0"/></clipPath><g clip-path="url(#cp_B3)">
<polygon class="c6" points="1102.0,371.0 1535.8,371.0 1535.8,386.0 1527.0,398.5 1537.0,401.0 1540.8,408.5 1534.5,428.5 1527.0,448.5 1524.5,458.5 1527.0,471.0 1535.8,471.0 1537.0,458.5 1554.5,457.2 1557.0,468.5 1567.0,481.0 1568.2,491.0 1564.5,521.0 1562.0,621.0 1560.8,742.0 1102.0,742.0"/>
<polygon class="c7" points="1190.5,371.0 1248.2,371.0 1238.2,381.0 1244.5,394.8 1234.5,403.5 1238.2,413.5 1227.0,421.0 1227.0,441.0 1197.0,446.0"/>
<polygon class="c7" points="1264.5,371.0 1535.8,371.0 1535.8,386.0 1527.0,398.5 1512.0,403.5 1502.0,446.0 1492.0,451.0 1474.5,442.2 1452.0,456.0 1437.0,436.0 1432.0,428.5 1437.0,411.0 1373.2,416.0 1337.0,423.5 1337.0,439.8 1332.0,441.0 1309.5,457.2 1253.2,384.8"/>
<polygon class="c4" points="1102.0,371.0 1113.2,371.0 1117.5,424.8 1102.0,424.8"/>
<polygon class="c5" points="1102.0,424.8 1117.5,424.8 1120.0,461.0 1102.0,472.2"/>
<polygon class="c5" points="1102.0,531.0 1125.8,526.0 1128.2,546.0 1184.5,531.0 1179.5,548.5 1217.0,568.5 1212.0,578.5 1197.0,571.0 1179.5,568.5 1177.0,578.5 1147.0,571.0 1144.5,583.5 1129.5,578.5 1129.5,586.0 1107.0,578.5 1102.0,583.5"/>
<polygon class="c3" points="1102.0,583.5 1107.0,578.5 1129.5,586.0 1102.0,636.0"/>
<polygon class="c4" points="1129.5,586.0 1129.5,578.5 1144.5,583.5 1147.0,571.0 1177.0,578.5 1179.5,568.5 1197.0,571.0 1212.0,578.5 1217.0,568.5 1219.5,604.8 1212.0,611.0 1214.5,617.2 1202.0,623.5 1202.0,636.0 1207.0,647.2 1204.5,704.8 1177.0,696.0 1169.5,718.5 1123.2,693.5 1115.0,705.5 1102.0,706.8 1102.0,636.0"/>
<polygon class="c5" points="1177.0,641.0 1187.0,639.8 1188.2,651.0 1178.2,652.2"/>
<polygon class="c2" points="1129.5,666.0 1139.5,656.0 1165.8,656.0 1169.5,678.5 1162.0,679.8 1142.0,668.5"/>
<polygon class="c1" points="1139.5,618.5 1149.5,617.2 1152.0,633.5 1164.5,636.0 1165.8,656.0 1139.5,656.0"/>
<polygon class="c3" points="1217.0,568.5 1254.5,586.0 1253.2,633.5 1267.0,636.0 1268.2,656.0 1254.5,667.2 1207.0,647.2 1202.0,636.0 1202.0,623.5 1214.5,617.2 1212.0,611.0 1219.5,604.8"/>
<polygon class="c5" points="1254.5,586.0 1309.5,583.5 1310.8,591.0 1334.5,589.8 1335.8,611.0 1352.0,608.5 1357.0,608.5 1362.0,656.0 1317.0,656.0 1314.5,628.5 1304.5,626.0 1257.0,633.5 1253.2,633.5"/>
<polygon class="c4" points="1253.2,633.5 1257.0,633.5 1304.5,626.0 1314.5,628.5 1317.0,656.0 1362.0,656.0 1363.2,667.2 1254.5,667.2 1268.2,656.0 1267.0,636.0"/>
<polygon class="c5" points="1299.5,641.0 1307.0,639.8 1308.2,648.5 1302.0,651.0"/>
<polygon class="c1" points="1207.0,647.2 1254.5,667.2 1363.2,667.2 1367.0,696.0 1352.0,706.0 1327.0,721.0 1324.5,732.2 1292.0,734.8 1204.5,704.8"/>
<polygon class="c4" points="1318.2,668.5 1363.2,667.2 1367.0,696.0 1352.0,706.0 1322.0,706.0 1319.5,686.0"/>
<polygon class="c4" points="1287.0,706.0 1322.0,706.0 1352.0,706.0 1327.0,721.0 1324.5,732.2 1292.0,734.8 1287.0,721.0"/>
<polygon class="c1" points="1333.2,674.8 1345.8,674.8 1348.2,686.0 1334.5,687.2"/>
<polygon class="c1" points="1177.0,696.0 1204.5,704.8 1232.0,714.8 1227.0,742.0 1142.0,742.0 1142.0,723.5 1169.5,718.5"/>
<polygon class="c5" points="1102.0,706.8 1115.0,705.5 1123.2,693.5 1169.5,718.5 1142.0,723.5 1142.0,742.0 1102.0,742.0"/>
<polygon class="c4" points="1232.0,714.8 1292.0,734.8 1324.5,732.2 1325.8,742.0 1227.0,742.0"/>
<polygon class="c5" points="1232.0,721.0 1277.0,732.2 1274.5,742.0 1227.0,742.0"/>
<polygon class="c5" points="1423.2,474.8 1449.5,456.0 1453.2,481.0 1448.2,501.0 1424.5,507.2 1418.2,521.0 1415.8,532.2 1414.5,532.2 1419.5,511.0 1424.5,506.0 1427.0,481.0"/>
<polygon class="c4" points="1424.5,507.2 1448.2,501.0 1452.0,481.0 1464.5,501.0 1457.0,523.5 1477.0,511.0 1479.5,558.5 1472.0,563.5 1464.5,566.0 1462.0,571.0 1452.0,576.0 1439.5,586.0 1427.0,578.5 1427.0,563.5 1422.0,558.5 1417.0,543.5 1414.5,532.2 1418.2,521.0"/>
<polygon class="c2" points="1452.0,543.5 1477.0,536.0 1479.5,558.5 1472.0,568.5 1457.0,566.0 1452.0,556.0"/>
<polygon class="c1" points="1454.5,548.5 1462.0,546.0 1464.5,556.0 1477.0,563.5 1469.5,568.5 1457.0,562.2"/>
<polygon class="c5" points="1479.5,476.0 1492.0,471.0 1512.0,483.5 1517.0,503.5 1537.0,502.2 1538.2,523.5 1540.8,556.0 1530.8,563.5 1532.0,608.5 1542.0,636.0 1562.0,628.5 1560.8,678.5 1524.5,676.0 1474.5,681.0 1477.0,671.0 1487.0,653.5 1488.2,621.0 1484.5,578.5 1479.5,541.0 1477.0,511.0"/>
<polygon class="c4" points="1480.8,543.5 1502.0,543.5 1512.0,561.0 1492.0,571.0 1484.5,578.5"/>
<polygon class="c4" points="1524.5,651.0 1562.0,646.0 1560.8,678.5 1524.5,676.0"/>
<polygon class="c5" points="1389.5,534.8 1414.5,532.2 1417.0,543.5 1422.0,558.5 1427.0,563.5 1427.0,578.5 1439.5,586.0 1434.5,598.5 1392.0,606.0 1389.5,571.0 1405.8,557.2 1392.0,543.5"/>
<polygon class="c5" points="1357.0,608.5 1392.0,606.0 1393.2,646.0 1377.0,671.0 1363.2,667.2"/>
<polygon class="c4" points="1392.0,606.0 1434.5,598.5 1439.5,586.0 1452.0,576.0 1462.0,571.0 1464.5,566.0 1472.0,563.5 1479.5,558.5 1484.5,578.5 1488.2,621.0 1487.0,653.5 1477.0,671.0 1474.5,681.0 1464.5,691.0 1462.0,731.0 1452.0,721.0 1439.5,731.0 1427.0,733.5 1412.0,721.0 1409.5,691.0 1397.0,696.0 1377.0,678.5 1367.0,677.2 1363.2,667.2 1377.0,671.0 1393.2,646.0"/>
<polygon class="c3" points="1419.5,601.0 1439.5,598.5 1442.0,628.5 1422.0,628.5"/>
<polygon class="c2" points="1439.5,598.5 1462.0,596.0 1464.5,626.0 1442.0,628.5"/>
<polygon class="c1" points="1425.8,654.8 1434.5,644.8 1449.5,642.2 1452.0,631.0 1459.5,633.5 1454.5,644.8 1439.5,651.0"/>
<polygon class="c5" points="1434.5,668.5 1444.5,666.0 1447.0,693.5 1457.0,696.0 1452.0,721.0 1434.5,716.0 1437.0,691.0"/>
<polygon class="c3" points="1412.0,706.0 1434.5,703.5 1452.0,706.0 1464.5,696.0 1462.0,731.0 1452.0,721.0 1439.5,731.0 1427.0,733.5 1412.0,721.0"/>
<polygon class="c1" points="1367.0,696.0 1384.5,703.5 1409.5,691.0 1412.0,721.0 1427.0,733.5 1434.5,733.5 1392.0,742.0 1325.8,742.0 1324.5,732.2 1327.0,721.0 1352.0,706.0"/>
<polygon class="c3" points="1367.0,677.2 1377.0,678.5 1397.0,696.0 1384.5,703.5 1367.0,696.0"/>
<polygon class="c4" points="1362.0,726.0 1384.5,721.0 1392.0,742.0 1359.5,742.0"/>
<polygon class="c4" points="1392.0,742.0 1434.5,733.5 1427.0,733.5 1439.5,731.0 1452.0,721.0 1462.0,731.0 1464.5,742.0"/>
<polygon class="c4" points="1474.5,681.0 1524.5,676.0 1524.5,721.0 1502.0,742.0 1464.5,742.0 1462.0,731.0 1464.5,691.0"/>
<polygon class="c1" points="1524.5,676.0 1560.8,681.0 1560.8,721.0 1539.5,721.0 1537.0,742.0 1502.0,742.0 1524.5,721.0"/>
<polygon class="c4" points="1539.5,721.0 1560.8,721.0 1560.8,742.0 1537.0,742.0"/>
<polygon class="c3" points="1464.5,721.0 1492.0,716.0 1502.0,742.0 1464.5,742.0"/>
<polyline class="b" points="1113.2,371.0 1128.2,551.0 1112.0,568.5 1107.0,578.5 1129.5,586.0 1102.0,636.0"/>
<polyline class="b" points="1190.5,371.0 1202.0,491.0 1179.5,548.5 1217.0,568.5 1254.5,586.0 1309.5,583.5 1310.8,591.0 1334.5,589.8 1334.5,578.5 1352.0,578.5"/>
<polyline class="b" points="1314.5,371.0 1335.8,396.0 1352.0,393.5 1374.5,401.0 1373.2,416.0"/>
<polyline class="b" points="1337.0,423.5 1373.2,416.0 1524.5,398.5 1535.8,386.0"/>
<polyline class="b" points="1337.0,423.5 1349.5,538.5 1352.0,578.5 1357.0,608.5 1363.2,667.2 1367.0,696.0"/>
<polyline class="b" points="1349.5,538.5 1414.5,532.2 1417.0,543.5 1422.0,558.5 1427.0,563.5 1427.0,578.5 1439.5,586.0 1452.0,576.0 1462.0,571.0 1464.5,566.0 1472.0,563.5 1479.5,558.5"/>
<polyline class="b" points="1535.8,371.0 1535.8,386.0 1524.5,398.5 1512.0,403.5 1502.0,446.0 1492.0,463.5 1479.5,476.0 1477.0,511.0 1479.5,541.0 1484.5,578.5 1488.2,621.0 1487.0,653.5 1477.0,671.0 1474.5,681.0 1464.5,691.0 1462.0,731.0 1464.5,742.0"/>
<polyline class="bt" points="1524.5,398.5 1514.5,416.0 1507.0,448.5 1497.0,466.0 1484.5,478.5 1474.5,501.0 1464.5,516.0 1457.0,523.5 1462.0,511.0 1469.5,496.0 1477.0,476.0"/>
<polyline class="b" points="1217.0,568.5 1219.5,604.8 1212.0,611.0 1214.5,617.2 1202.0,623.5 1202.0,636.0 1207.0,647.2 1204.5,704.8"/>
<polyline class="b" points="1207.0,647.2 1254.5,667.2 1363.2,667.2"/>
<polyline class="b" points="1204.5,704.8 1292.0,734.8 1324.5,732.2 1325.8,742.0"/>
<polyline class="b" points="1324.5,732.2 1327.0,721.0 1352.0,706.0 1367.0,696.0 1367.0,677.2 1377.0,678.5 1397.0,696.0 1409.5,691.0 1412.0,721.0 1427.0,733.5 1439.5,731.0 1452.0,721.0 1462.0,731.0"/>
<polyline class="b" points="1204.5,704.8 1177.0,696.0 1169.5,718.5 1123.2,693.5 1115.0,705.5 1102.0,706.8"/>
<polyline class="b" points="1169.5,718.5 1142.0,723.5 1142.0,742.0"/>
<polyline class="b" points="1474.5,681.0 1524.5,676.0 1527.0,674.8 1560.8,681.0"/>
<polyline class="bt" points="1535.8,386.0 1527.0,398.5 1537.0,401.0 1540.8,408.5 1534.5,428.5 1527.0,448.5 1524.5,458.5 1527.0,471.0 1535.8,471.0 1537.0,458.5 1554.5,457.2 1557.0,468.5 1567.0,481.0 1568.2,491.0 1564.5,521.0 1562.0,621.0 1560.8,742.0"/>
<polyline class="bt" points="1337.0,578.5 1342.0,596.0 1352.0,606.0 1337.0,611.0 1329.5,621.0 1332.0,631.0 1322.0,629.8 1335.8,639.8 1339.5,631.0 1349.5,621.0 1362.0,606.0 1377.0,578.5 1384.5,563.5 1404.5,557.2 1392.0,568.5 1374.5,586.0 1364.5,603.5 1352.0,606.0"/>
<polyline class="b" points="1392.0,742.0 1434.5,733.5"/>
</g>
<clipPath id="cp_C0"><rect x="-0.5" y="741.5" width="477.0" height="372.0"/></clipPath><g clip-path="url(#cp_C0)">
<polygon class="c5" points="210.0,742.0 200.0,749.5 190.0,757.0 175.0,764.5 172.5,777.0 162.5,787.0 155.0,800.8 140.0,808.2 125.0,814.5 110.0,824.5 100.0,828.2 85.0,842.0 75.0,854.5 60.0,867.0 40.0,878.2 25.0,889.5 3.8,900.8 3.8,989.0 476.0,989.0 476.0,742.0"/>
<polygon class="c5" points="155.0,800.8 140.0,808.2 125.0,814.5 110.0,824.5 100.0,828.2 85.0,842.0 75.0,854.5 60.0,867.0 40.0,878.2 25.0,889.5 3.8,900.8 3.8,989.0 172.5,989.0 172.5,812.0 163.8,804.5"/>
<polygon class="c3" points="110.0,824.5 125.0,814.5 140.0,808.2 145.0,809.5 143.8,832.0 140.0,847.0 117.5,847.0 116.2,874.5 87.5,874.5 88.8,842.0 100.0,828.2"/>
<polygon class="c2" points="88.8,842.0 100.0,828.2 110.0,824.5 116.2,847.0 116.2,874.5 87.5,874.5"/>
<polygon class="c4" points="100.0,839.5 112.5,839.5 111.2,850.8 101.2,850.8"/>
<polygon class="c3" points="60.0,867.0 75.0,854.5 87.5,847.0 87.5,874.5 70.0,882.0 40.0,892.0 32.5,902.0 25.0,889.5 40.0,878.2"/>
<polygon class="c1" points="70.0,882.0 87.5,874.5 116.2,874.5 115.0,909.5 100.0,910.8 97.5,902.0 75.0,902.0 62.5,892.0"/>
<polygon class="c4" points="116.2,847.0 172.5,847.0 172.5,989.0 95.0,989.0 96.2,959.5 120.0,957.0 117.5,932.0 87.5,932.0 75.0,912.0 75.0,902.0 97.5,902.0 100.0,910.8 115.0,909.5"/>
<polygon class="c3" points="116.2,932.0 143.8,932.0 145.0,962.0 137.5,963.2 136.2,950.8 122.5,950.8 120.0,957.0"/>
<polygon class="c1" points="122.5,950.8 136.2,950.8 137.5,963.2 123.8,963.2"/>
<polygon class="c3" points="95.0,959.5 120.0,957.0 137.5,963.2 145.0,962.0 172.5,960.8 172.5,989.0 95.0,989.0"/>
<polygon class="c4" points="32.5,902.0 40.0,892.0 62.5,892.0 75.0,902.0 75.0,912.0 43.8,912.0 42.5,932.0 32.5,932.0"/>
<polygon class="c1" points="43.8,912.0 75.0,912.0 85.0,929.5 42.5,932.0"/>
<polygon class="c6" points="210.0,742.0 315.0,742.0 315.0,814.5 295.0,817.0 275.0,822.0 262.5,829.5 250.0,832.0 232.5,839.5 217.5,844.5 207.5,842.0 195.0,829.5 185.0,814.5 172.5,812.0 163.8,804.5 155.0,800.8 162.5,787.0 172.5,777.0 175.0,764.5 190.0,757.0 200.0,749.5"/>
<polygon class="c5" points="210.0,742.0 287.5,742.0 287.5,760.8 200.0,759.5 197.5,752.0"/>
<polygon class="c6" points="172.5,812.0 185.0,814.5 195.0,829.5 207.5,842.0 217.5,844.5 232.5,839.5 250.0,832.0 262.5,829.5 275.0,822.0 295.0,817.0 315.0,814.5 315.5,818.2 352.5,818.2 352.5,989.0 172.5,989.0"/>
<polygon class="c7" points="211.2,845.8 217.5,844.5 232.5,839.5 250.0,832.0 261.2,828.2 261.2,819.5 271.2,818.2 275.0,822.0 276.2,790.8 315.0,789.5 315.0,814.5 313.8,852.0 292.5,857.0 282.5,867.0 260.0,874.5 252.5,879.5 240.0,875.8 222.5,867.0 213.8,857.0"/>
<polygon class="c5" points="172.5,912.0 192.5,909.5 212.5,914.5 215.0,937.0 210.0,942.0 215.0,952.0 232.5,949.5 217.5,959.5 215.0,972.0 200.0,982.0 200.0,989.0 172.5,989.0"/>
<polygon class="c5" points="275.0,917.0 307.5,902.0 322.5,892.0 335.0,878.2 352.5,874.5 352.5,922.0 332.5,934.5 305.0,934.5 265.0,927.0"/>
<polygon class="c3" points="262.5,929.5 272.5,923.2 300.0,922.0 306.2,932.0 306.2,954.5 315.0,959.5 310.0,962.0 295.0,952.0 275.0,947.0 265.0,939.5"/>
<polygon class="c2" points="200.0,982.0 215.0,972.0 217.5,959.5 235.0,949.5 245.0,939.5 260.0,939.5 265.0,942.0 270.0,957.0 275.0,962.0 295.0,954.5 310.0,962.0 306.2,954.5 306.2,932.0 332.5,932.0 352.5,922.0 352.5,989.0 200.0,989.0"/>
<polygon class="c5" points="260.0,939.5 265.0,939.5 271.2,954.5 282.5,957.0 275.0,962.0 270.0,959.5"/>
<polygon class="c6" points="315.0,742.0 438.8,742.0 435.0,772.0 425.0,784.5 422.5,792.0 415.0,802.0 412.5,817.0 315.5,818.2"/>
<polygon class="c7" points="316.2,762.0 352.5,762.0 352.5,818.2 315.5,818.2"/>
<polygon class="c5" points="408.8,742.0 438.8,742.0 435.0,772.0 425.0,784.5 422.5,788.2 408.8,788.2"/>
<polygon class="c1" points="438.8,742.0 476.0,742.0 476.0,834.5 465.0,833.2 465.0,789.5 425.0,788.2 435.0,772.0"/>
<polygon class="c3" points="465.0,762.0 476.0,762.0 476.0,834.5 465.0,833.2"/>
<polygon class="c5" points="422.5,792.0 425.0,788.2 465.0,789.5 465.0,818.2 412.5,817.0 415.0,802.0"/>
<polygon class="c6" points="352.5,818.2 412.5,817.0 410.0,832.0 392.5,852.0 380.0,862.0 367.5,859.5 355.0,847.0 352.5,847.0"/>
<polygon class="c5" points="352.5,847.0 355.0,847.0 367.5,859.5 380.0,862.0 392.5,852.0 390.0,867.0 400.0,882.0 397.5,897.0 392.5,917.0 400.0,932.0 405.0,947.0 400.0,967.0 392.5,969.5 400.0,989.0 352.5,989.0"/>
<polygon class="c4" points="412.5,817.0 445.0,818.2 447.5,842.0 445.0,872.0 435.0,892.0 422.5,889.5 410.0,902.0 397.5,897.0 400.0,882.0 390.0,867.0 392.5,852.0 410.0,832.0"/>
<polygon class="c5" points="445.0,818.2 465.0,818.2 465.0,833.2 476.0,834.5 476.0,884.5 460.0,884.5 445.0,889.5 445.0,872.0 447.5,842.0"/>
<polygon class="c3" points="435.0,892.0 445.0,889.5 460.0,884.5 476.0,884.5 476.0,922.0 465.0,922.0 455.0,914.5 447.5,904.5 425.0,902.0 422.5,889.5"/>
<polygon class="c1" points="392.5,917.0 397.5,897.0 410.0,902.0 422.5,889.5 425.0,902.0 447.5,904.5 455.0,914.5 460.0,932.0 450.0,949.5 476.0,962.0 476.0,989.0 400.0,989.0 392.5,969.5 400.0,967.0 405.0,947.0 400.0,932.0"/>
<polygon class="c2" points="465.0,922.0 476.0,922.0 476.0,962.0 450.0,949.5 460.0,932.0 455.0,914.5"/>
<polyline class="b" points="210.0,742.0 200.0,749.5 190.0,757.0 175.0,764.5 172.5,777.0 162.5,787.0 155.0,800.8 140.0,808.2 125.0,814.5 110.0,824.5 100.0,828.2 85.0,842.0 75.0,854.5 60.0,867.0 40.0,878.2 25.0,889.5 3.8,900.8 3.8,989.0 476.0,989.0"/>
<polyline class="b" points="172.5,989.0 172.5,812.0"/>
<polyline class="b" points="155.0,800.8 163.8,804.5 172.5,812.0 185.0,814.5 195.0,829.5 207.5,842.0 217.5,844.5 232.5,839.5 250.0,832.0 262.5,829.5 275.0,822.0 295.0,817.0 315.0,814.5"/>
<polyline class="b" points="315.0,742.0 315.5,818.2 352.5,818.2 352.5,989.0"/>
<polyline class="b" points="352.5,818.2 412.5,817.0 465.0,818.2 465.0,833.2 476.0,834.5"/>
<polyline class="b" points="438.8,742.0 435.0,772.0 425.0,784.5 422.5,792.0 415.0,802.0 412.5,817.0"/>
<polyline class="bt" points="67.5,905.8 75.0,917.0 82.5,932.0 92.5,942.0 100.0,953.2 117.5,955.8 121.2,952.0 110.0,949.5 100.0,942.0 90.0,932.0 82.5,917.0 75.0,907.0"/>
</g>
<clipPath id="cp_C1"><rect x="475.5" y="741.5" width="477.0" height="372.0"/></clipPath><g clip-path="url(#cp_C1)">
<polygon class="c4" points="476.0,742.0 952.0,742.0 952.0,989.0 476.0,989.0"/>
<polygon class="c1" points="476.0,742.0 521.0,742.0 523.5,767.0 509.8,768.2 509.8,799.5 508.5,813.2 493.5,814.5 492.2,834.5 476.0,834.5"/>
<polygon class="c5" points="476.0,834.5 492.2,834.5 491.0,884.5 476.0,887.0"/>
<polygon class="c3" points="476.0,887.0 491.0,884.5 487.2,989.0 476.0,989.0"/>
<polygon class="c1" points="476.0,967.0 488.0,967.0 487.2,989.0 476.0,989.0"/>
<polygon class="c4" points="509.8,768.2 549.8,769.0 549.8,799.5 509.8,799.5"/>
<polygon class="c5" points="521.0,742.0 576.0,742.0 578.5,769.5 549.8,769.0 523.5,767.0"/>
<polygon class="c6" points="549.8,769.0 578.5,769.5 578.5,800.0 549.8,799.5"/>
<polygon class="c3" points="493.5,814.5 508.5,813.2 509.8,799.5 537.2,800.0 536.0,824.5 534.8,849.5 529.8,872.0 518.5,874.5 508.5,867.0 492.2,857.0"/>
<polygon class="c5" points="537.2,800.0 566.0,800.8 573.5,814.5 558.5,832.0 556.0,842.0 546.0,842.0 543.5,852.0 536.0,852.0 536.0,824.5"/>
<polygon class="c6" points="566.0,800.8 607.2,800.8 609.8,814.5 611.0,837.0 626.0,839.5 619.8,852.0 626.0,864.5 612.2,872.0 601.0,867.0 593.5,882.0 583.5,887.0 576.0,904.5 561.0,907.0 556.0,922.0 557.2,989.0 487.2,989.0 492.2,857.0 508.5,867.0 518.5,874.5 529.8,872.0 534.8,849.5 536.0,852.0 543.5,852.0 546.0,842.0 556.0,842.0 558.5,832.0 573.5,814.5"/>
<polygon class="c5" points="607.2,800.8 631.0,800.8 638.5,824.5 641.0,829.5 642.2,867.0 639.8,887.0 626.0,897.0 611.0,904.5 612.2,927.0 601.0,929.5 599.8,959.5 618.5,962.0 618.5,989.0 557.2,989.0 556.0,922.0 561.0,907.0 576.0,904.5 583.5,887.0 593.5,882.0 601.0,867.0 612.2,872.0 626.0,864.5 619.8,852.0 626.0,839.5 611.0,837.0 609.8,814.5"/>
<polygon class="c3" points="601.0,929.5 612.2,927.0 618.5,928.2 618.5,959.5 599.8,959.5"/>
<polygon class="c1" points="618.5,928.2 647.2,928.2 647.2,959.5 618.5,959.5"/>
<polygon class="c2" points="647.2,928.2 651.0,932.0 674.8,922.0 674.8,959.5 647.2,959.5"/>
<polygon class="c3" points="618.5,959.5 674.8,959.5 674.8,989.0 618.5,989.0"/>
<polygon class="c1" points="626.0,742.0 676.0,742.0 683.5,767.0 688.5,777.0 688.5,837.0 671.0,837.0 668.5,829.5 641.0,829.5 638.5,824.5 631.0,800.8 618.5,792.0 628.5,762.0"/>
<polygon class="c1" points="676.0,742.0 738.5,742.0 746.0,762.0 753.5,784.5 756.0,809.5 696.0,810.8 688.5,777.0 683.5,767.0"/>
<polygon class="c5" points="676.0,867.0 701.0,867.0 702.2,892.0 676.0,894.5"/>
<polygon class="c6" points="702.2,872.0 739.8,872.0 741.0,894.5 758.5,895.8 757.2,908.2 751.0,912.0 741.0,909.5 731.0,907.0 731.0,893.2 702.2,892.0"/>
<polygon class="c2" points="763.5,859.5 771.0,842.0 769.8,829.5 779.8,824.5 791.0,812.0 798.5,814.5 801.0,824.5 796.0,837.0 803.5,852.0 813.5,857.0 801.0,858.2 781.0,860.8"/>
<polygon class="c1" points="783.5,817.0 798.5,814.5 801.0,824.5 788.5,834.5 781.0,827.0"/>
<polygon class="c3" points="831.0,785.8 841.0,785.8 844.8,842.0 826.0,842.0 828.5,824.5"/>
<polygon class="c5" points="796.0,742.0 818.5,742.0 817.2,762.0 797.2,762.0"/>
<polygon class="c3" points="841.0,742.0 889.8,742.0 891.0,784.5 842.2,785.8"/>
<polygon class="c2" points="842.2,785.8 891.0,784.5 891.0,809.5 866.0,809.5 843.5,808.2"/>
<polygon class="c5" points="888.5,742.0 933.5,742.0 938.5,852.0 893.5,853.2"/>
<polygon class="c6" points="933.5,742.0 952.0,742.0 952.0,827.0 941.0,827.0"/>
<polygon class="c5" points="941.0,827.0 952.0,827.0 952.0,854.5 938.5,852.0"/>
<polygon class="c3" points="939.8,853.2 952.0,853.2 952.0,873.2 941.5,872.0"/>
<polygon class="c1" points="941.5,872.0 952.0,873.2 952.0,908.2 944.8,907.0"/>
<polygon class="c5" points="777.2,897.0 792.2,897.0 793.5,902.0 806.0,902.0 801.0,937.0 803.5,972.0 793.5,979.5 794.8,989.0 772.2,989.0 776.0,974.5 772.2,939.5 778.5,937.0"/>
<polygon class="c5" points="836.0,857.0 876.0,855.8 878.5,872.0 883.5,892.0 886.0,927.0 848.5,927.0 846.0,892.0 848.5,867.0 836.0,864.5"/>
<polygon class="c2" points="801.0,937.0 831.0,937.0 848.5,927.0 879.8,928.2 881.0,989.0 794.8,989.0 793.5,979.5 803.5,972.0"/>
<polygon class="c5" points="676.0,894.5 731.0,893.2 731.0,917.0 676.0,922.0"/>
<polygon class="c3" points="676.0,929.5 726.0,922.0 763.5,947.0 774.8,959.5 772.2,989.0 738.5,989.0 716.0,959.5 701.0,962.0 693.5,967.0 676.0,959.5"/>
<polygon class="c2" points="696.0,957.0 706.0,949.5 716.0,954.5 718.5,962.0 706.0,967.0"/>
<polygon class="c2" points="876.0,855.8 911.0,854.5 912.2,912.0 888.5,909.5 886.0,927.0 883.5,892.0 878.5,872.0"/>
<polygon class="c1" points="911.0,854.5 939.8,853.2 944.8,907.0 952.0,908.2 952.0,914.5 912.2,912.0"/>
<polygon class="c3" points="879.8,928.2 886.0,927.0 888.5,909.5 912.2,912.0 952.0,914.5 952.0,942.0 911.0,942.0 881.0,954.5"/>
<polygon class="c1" points="881.0,954.5 911.0,942.0 938.5,942.0 936.0,959.5 911.0,962.0 901.0,969.5 882.2,972.0"/>
<polygon class="c2" points="882.2,972.0 901.0,969.5 911.0,962.0 936.0,959.5 952.0,957.0 952.0,989.0 881.0,989.0"/>
<polyline class="b" points="476.0,989.0 952.0,989.0"/>
<polyline class="b" points="487.2,989.0 493.5,814.5 508.5,813.2 509.8,799.5 631.0,800.8"/>
<polyline class="b" points="521.0,742.0 523.5,767.0 549.8,769.0 549.8,799.5"/>
<polyline class="b" points="549.8,769.0 578.5,769.5 578.5,800.0"/>
<polyline class="b" points="590.0,742.0 580.0,770.0"/>
<polyline class="b" points="594.0,742.0 584.0,770.0 580.0,770.0"/>
<polyline class="b" points="616.0,854.5 626.0,842.0 633.5,827.0 641.0,817.0 646.0,797.0 648.5,777.0 653.5,773.2"/>
<polyline class="b" points="619.8,855.8 631.0,839.5 638.5,824.5 636.0,799.5 632.2,800.8 633.5,824.5"/>
<polyline class="b" points="674.8,742.0 683.5,767.0 688.5,777.0 688.5,817.0 693.5,842.0 696.0,854.5"/>
<polyline class="b" points="686.0,742.0 696.0,767.0 697.2,809.5 694.8,837.0 698.5,854.5"/>
<polyline class="b" points="722.2,742.0 731.0,764.5 748.5,787.0 763.5,807.0 778.5,819.5 783.5,838.2"/>
<polyline class="b" points="736.0,742.0 741.0,762.0 753.5,784.5 771.0,807.0 782.2,817.0 787.2,838.2 783.5,838.2"/>
<polyline class="b" points="641.0,829.5 668.5,829.5 671.0,837.0 691.0,837.0"/>
<polyline class="b" points="693.5,810.8 739.8,810.0 756.0,809.5"/>
<polyline class="b" points="739.8,810.0 741.0,894.5"/>
<polyline class="b" points="641.0,829.5 643.5,898.2 674.8,899.5 674.8,989.0"/>
<polyline class="b" points="674.8,894.5 726.0,893.2 731.0,893.2 731.0,907.0 741.0,909.5 751.0,912.0 757.2,908.2 758.5,895.8 741.0,894.5"/>
<polyline class="b" points="758.5,897.0 777.2,897.0"/>
<polyline class="b" points="752.2,784.5 841.0,785.8"/>
<polyline class="b" points="841.0,742.0 846.0,854.5 836.0,857.0 836.0,864.5 848.5,867.0 846.0,892.0 823.5,885.8 808.5,885.8 806.0,902.0 793.5,902.0 792.2,897.0 777.2,897.0 778.5,937.0 772.2,939.5 776.0,974.5 772.2,989.0"/>
<polyline class="b" points="846.0,854.5 939.8,853.2 952.0,854.5"/>
<polyline class="b" points="934.0,751.2 952.0,750.5"/>
<polyline class="b" points="933.5,742.0 939.8,853.2 944.8,907.0 952.0,908.2"/>
<polyline class="b" points="876.0,855.8 878.5,872.0 883.5,892.0 886.0,927.0 879.8,928.2 881.0,989.0"/>
</g>
<clipPath id="cp_C2"><rect x="951.5" y="741.5" width="477.0" height="372.0"/></clipPath><g clip-path="url(#cp_C2)">
<polygon class="c5" points="952.0,742.0 1428.0,742.0 1428.0,1113.0 1134.5,1113.0 1137.0,1102.0 1132.0,1089.5 1132.0,1077.0 1124.5,1064.5 1127.0,1054.5 1119.5,1047.0 1114.5,1037.0 1102.0,1034.5 1087.0,1032.0 1082.0,1019.5 1074.5,1007.0 1064.5,997.0 1057.0,988.2 952.0,989.0"/>
<polygon class="c6" points="952.0,742.0 1077.0,742.0 1069.5,767.0 1067.0,792.0 1057.0,814.5 1052.0,822.0 1027.0,823.2 1002.5,821.5 952.0,824.5"/>
<polygon class="c4" points="952.0,907.0 1045.8,924.5 1045.8,967.0 1049.5,979.5 1057.0,988.2 952.0,989.0"/>
<polygon class="c3" points="952.0,852.0 955.2,851.2 994.5,846.5 1005.5,834.0 1002.5,821.5 1027.8,823.0 1052.0,822.0 1054.5,852.0 1050.8,862.0 1049.8,871.8 1037.2,859.2 1016.8,857.8 1001.0,862.2 988.2,873.5 985.2,882.8 967.8,882.8 952.0,874.5"/>
<polygon class="c1" points="952.0,874.5 967.8,882.8 985.2,882.8 988.2,873.5 1001.0,862.2 1016.8,857.8 1037.2,859.2 1049.8,871.8 1048.2,884.5 1045.8,924.5 994.5,924.5 993.2,907.0 952.0,907.0"/>
<polygon class="c1" points="952.0,924.5 994.5,924.5 1045.8,924.5 1045.8,967.0 1049.5,979.5 1057.0,988.2 1014.5,989.0 1013.2,949.5 962.0,947.0 952.0,939.5"/>
<polygon class="c2" points="952.0,939.5 962.0,947.0 969.5,989.0 952.0,989.0"/>
<polygon class="c1" points="969.5,907.0 993.2,907.0 994.5,924.5 969.5,924.5"/>
<polygon class="c4" points="952.0,907.0 969.5,907.0 969.5,924.5 952.0,924.5"/>
<polygon class="c1" points="1050.8,862.0 1077.0,847.0 1088.2,849.5 1088.2,867.0 1099.5,867.0 1098.2,882.0 1092.0,912.0 1102.0,937.0 1099.5,957.0 1117.0,967.0 1069.5,989.5 1064.5,997.0 1057.0,988.2 1049.5,979.5 1045.8,967.0 1045.8,924.5 1048.2,884.5"/>
<polygon class="c1" points="1132.0,742.0 1199.5,742.0 1194.5,754.5 1177.0,772.0 1172.0,789.5 1157.0,784.5 1159.5,772.0 1152.0,764.5 1129.5,767.0"/>
<polygon class="c3" points="1129.5,767.0 1152.0,764.5 1159.5,772.0 1157.0,784.5 1142.0,787.0 1132.0,779.5"/>
<polygon class="c4" points="1199.5,742.0 1228.2,742.0 1233.2,774.5 1202.0,792.0 1172.0,789.5 1177.0,772.0 1194.5,754.5"/>
<polygon class="c6" points="1114.5,829.5 1132.0,827.0 1134.5,817.0 1138.2,817.0 1139.5,823.2 1144.5,824.5 1145.8,838.2 1142.0,847.0 1132.0,849.5 1114.5,852.0"/>
<polygon class="c6" points="1234.5,774.5 1262.0,767.0 1274.5,779.5 1284.5,779.5 1302.0,804.5 1297.0,822.0 1284.5,827.0 1282.0,842.0 1252.0,837.0 1247.0,852.0 1239.5,850.8 1217.0,819.5"/>
<polygon class="c4" points="1247.0,852.0 1252.0,837.0 1282.0,842.0 1284.5,827.0 1297.0,822.0 1302.0,804.5 1284.5,779.5 1297.0,769.5 1302.0,742.0 1322.0,742.0 1322.0,779.5 1332.0,799.5 1324.5,852.0 1327.0,864.5 1302.0,869.5 1284.5,872.0"/>
<polygon class="c2" points="1288.2,777.0 1302.0,769.5 1322.0,779.5 1319.5,792.0 1304.5,804.5"/>
<polygon class="c4" points="1302.0,742.0 1342.0,742.0 1347.0,752.0 1332.0,799.5 1322.0,779.5 1322.0,742.0"/>
<polygon class="c1" points="1342.0,742.0 1428.0,742.0 1428.0,838.2 1324.5,854.5 1332.0,799.5 1347.0,752.0"/>
<polygon class="c3" points="1359.5,807.0 1387.0,804.5 1392.0,842.0 1362.0,847.0"/>
<polygon class="c3" points="1389.5,799.5 1428.0,792.0 1428.0,814.5 1392.0,814.5"/>
<polygon class="c2" points="1387.0,767.0 1414.5,762.0 1414.5,779.5 1389.5,782.0"/>
<polygon class="c6" points="1142.0,847.0 1152.0,838.2 1164.5,829.5 1184.5,822.0 1217.0,819.5 1239.5,850.8 1284.5,872.0 1259.5,922.0 1277.0,934.5 1257.0,942.0 1202.0,983.2 1147.0,1014.5 1122.0,957.0 1147.0,942.0 1127.0,902.0 1147.0,887.0 1134.5,867.0 1142.0,859.5 1137.0,852.0"/>
<polygon class="c7" points="1188.2,882.0 1219.5,874.5 1222.0,864.5 1239.5,852.0 1250.8,857.0 1250.8,872.0 1227.0,892.0 1214.5,914.5 1202.0,909.5 1187.0,924.5 1187.0,892.0"/>
<polygon class="c4" points="1259.5,922.0 1272.0,897.0 1322.0,902.0 1352.0,892.0 1372.0,914.5 1329.5,917.0 1322.0,942.0 1289.5,939.5 1277.0,934.5"/>
<polygon class="c4" points="1324.5,854.5 1428.0,838.2 1428.0,867.0 1397.0,882.0 1377.0,872.0 1352.0,892.0 1344.5,882.0 1327.0,864.5"/>
<polygon class="c1" points="1352.0,892.0 1377.0,872.0 1397.0,882.0 1399.5,897.0 1387.0,912.0 1372.0,914.5"/>
<polygon class="c3" points="1397.0,882.0 1428.0,867.0 1428.0,904.5 1414.5,904.5 1399.5,917.0 1387.0,912.0 1399.5,897.0"/>
<polygon class="c1" points="1399.5,917.0 1414.5,904.5 1428.0,904.5 1404.5,944.5 1394.5,937.0"/>
<polygon class="c4" points="1202.0,983.2 1257.0,942.0 1277.0,934.5 1289.5,939.5 1372.0,957.0 1384.5,932.0 1404.5,944.5 1402.0,992.0 1397.0,1017.0 1402.0,1042.0 1399.5,1113.0 1309.5,1113.0 1250.8,1069.5 1277.0,1029.5"/>
<polygon class="c6" points="1265.8,974.5 1277.0,964.5 1279.5,952.0 1289.5,942.0 1322.0,952.0 1324.5,979.5 1312.0,987.0 1305.8,1003.2 1289.5,992.0"/>
<polygon class="c5" points="1305.8,1003.2 1312.0,987.0 1324.5,979.5 1322.0,952.0 1372.0,957.0 1364.5,979.5 1352.0,987.0 1342.0,1017.0 1332.0,1029.5 1337.0,1047.0 1327.0,1062.0 1312.0,1054.5 1292.0,1037.0 1302.0,1017.0"/>
<polygon class="c1" points="1372.0,982.0 1387.0,977.0 1392.0,992.0 1397.0,1017.0 1382.0,1029.5 1372.0,1012.0 1364.5,994.5"/>
<polygon class="c3" points="1277.0,1029.5 1292.0,1037.0 1312.0,1054.5 1327.0,1062.0 1342.0,1064.5 1312.0,1084.5 1297.0,1067.0 1262.0,1059.5"/>
<polygon class="c1" points="1342.0,1064.5 1357.0,1054.5 1377.0,1062.0 1392.0,1074.5 1394.5,1092.0 1377.0,1104.5 1357.0,1102.0 1352.0,1087.0"/>
<polygon class="c1" points="1250.8,1069.5 1262.0,1059.5 1297.0,1067.0 1312.0,1084.5 1302.0,1099.5 1277.0,1089.5"/>
<polygon class="c3" points="1312.0,1084.5 1342.0,1064.5 1352.0,1087.0 1357.0,1102.0 1327.0,1113.0 1309.5,1113.0"/>
<polygon class="c1" points="1357.0,1102.0 1377.0,1104.5 1382.0,1113.0 1342.0,1113.0"/>
<polygon class="c6" points="1117.0,1037.0 1149.5,1015.8 1162.0,1019.5 1152.0,1042.0 1142.0,1055.8 1127.0,1049.5"/>
<polygon class="c6" points="1134.5,1079.5 1162.0,1082.0 1162.0,1113.0 1134.5,1113.0 1137.0,1102.0 1132.0,1089.5"/>
<polygon class="c3" points="1177.0,1037.0 1187.0,1024.5 1202.0,1022.0 1214.5,1027.0 1224.5,1012.0 1229.5,1004.5 1277.0,1029.5 1250.8,1069.5 1264.5,1082.0 1309.5,1113.0 1162.0,1113.0 1164.5,1064.5 1177.0,1062.0"/>
<polygon class="c4" points="1162.0,1064.5 1177.0,1062.0 1202.0,1067.0 1217.0,1077.0 1227.0,1097.0 1242.0,1102.0 1277.0,1113.0 1162.0,1113.0"/>
<polygon class="c1" points="1189.5,1042.0 1202.0,1024.5 1217.0,1027.0 1229.5,1004.5 1277.0,1029.5 1264.5,1049.5 1234.5,1044.5 1222.0,1049.5 1217.0,1064.5 1202.0,1064.5 1199.5,1057.0 1189.5,1057.0"/>
<polygon class="c1" points="1217.0,1067.0 1252.0,1069.5 1264.5,1082.0 1274.5,1089.5 1259.5,1099.5 1234.5,1094.5 1222.0,1079.5"/>
<polygon class="c4" points="1404.5,944.5 1428.0,904.5 1428.0,1113.0 1399.5,1113.0 1402.0,1042.0 1397.0,1017.0 1402.0,992.0"/>
<polygon class="c1" points="1402.0,1002.0 1419.5,999.5 1422.0,1024.5 1404.5,1029.5"/>
<polygon class="c3" points="1407.0,962.0 1428.0,972.0 1428.0,992.0 1409.5,992.0"/>
<polyline class="b" points="952.0,989.0 1057.0,988.2 1064.5,997.0 1074.5,1007.0 1082.0,1019.5 1087.0,1032.0 1102.0,1034.5 1114.5,1037.0 1119.5,1047.0 1127.0,1054.5 1124.5,1064.5 1132.0,1077.0 1132.0,1089.5 1137.0,1102.0 1134.5,1113.0"/>
<polyline class="b" points="1077.0,742.0 1069.5,767.0 1067.0,792.0 1057.0,814.5 1052.0,822.0 1054.5,852.0 1050.8,862.0 1048.2,884.5 1045.8,924.5 1045.8,967.0 1049.5,979.5 1057.0,988.2"/>
<polyline class="b" points="952.0,750.8 1044.5,745.8 1077.0,743.2"/>
<polyline class="b" points="952.0,907.0 993.2,907.0 994.5,924.5 1045.8,924.5"/>
<polyline class="b" points="1048.2,884.5 1062.0,885.8 1082.0,874.5 1088.2,867.0 1099.5,867.0 1114.5,857.0 1132.0,849.5 1142.0,847.0 1144.5,839.5 1152.0,838.2 1164.5,829.5 1184.5,822.0 1207.0,819.5 1217.0,819.5 1234.5,774.5 1227.0,742.0"/>
<polyline class="b" points="1217.0,819.5 1239.5,850.8 1284.5,872.0 1302.0,869.5 1327.0,864.5 1324.5,854.5 1332.0,799.5 1347.0,752.0 1342.0,742.0"/>
<polyline class="b" points="1324.5,854.5 1428.0,838.2"/>
<polyline class="b" points="1284.5,872.0 1259.5,922.0 1277.0,934.5 1257.0,942.0 1202.0,983.2 1112.0,1035.8"/>
<polyline class="b" points="1277.0,934.5 1289.5,939.5 1372.0,957.0 1384.5,932.0 1404.5,944.5"/>
<polyline class="b" points="1202.0,983.2 1277.0,1029.5 1250.8,1069.5 1294.2,1105.0 1297.0,1113.0"/>
<polyline class="b" points="1428.0,904.5 1414.5,927.0 1407.0,942.0 1402.0,992.0 1397.0,1017.0 1402.0,1042.0 1399.5,1113.0"/>
<polyline class="b" points="1428.0,909.5 1417.0,932.0 1409.5,947.0 1405.8,992.0 1400.8,1017.0 1405.0,1042.0 1402.0,1113.0"/>
<polyline class="b" points="1404.5,962.0 1428.0,972.0"/>
</g>
<clipPath id="cp_C3"><rect x="1299.5" y="741.5" width="477.0" height="372.0"/></clipPath><g clip-path="url(#cp_C3)">
<polygon class="w" points="1300.0,742.0 1776.0,742.0 1776.0,1113.0 1300.0,1113.0"/>
<polygon class="c4" points="1300.0,742.0 1562.5,742.0 1563.8,744.5 1542.5,822.0 1525.0,892.0 1505.0,962.0 1507.5,972.0 1510.0,973.2 1505.0,1113.0 1300.0,1113.0"/>
<polygon class="c1" points="1342.5,748.2 1400.0,742.0 1465.0,742.0 1460.0,754.5 1450.0,772.0 1445.0,792.0 1447.5,807.0 1440.0,822.0 1438.8,838.2 1323.8,854.5 1330.0,824.5 1332.5,799.5 1345.0,767.0 1346.2,754.5"/>
<polygon class="c3" points="1358.8,809.5 1382.5,807.0 1395.0,814.5 1396.2,844.5 1365.0,847.0"/>
<polygon class="c3" points="1387.5,799.5 1417.5,794.5 1437.5,797.0 1438.8,817.0 1420.0,814.5 1392.5,812.0"/>
<polygon class="c2" points="1357.5,757.0 1380.0,752.0 1382.5,772.0 1362.5,777.0"/>
<polygon class="c2" points="1410.0,757.0 1430.0,767.0 1435.0,789.5 1417.5,794.5 1387.5,799.5 1400.0,777.0"/>
<polygon class="c1" points="1315.0,742.0 1342.5,748.2 1346.2,754.5 1320.0,752.0"/>
<polygon class="c1" points="1447.5,799.5 1486.2,794.5 1477.5,827.0 1440.0,832.0 1447.5,807.0"/>
<polygon class="c2" points="1450.0,772.0 1460.0,754.5 1465.0,742.0 1490.0,742.0 1475.0,772.0 1460.0,792.0 1445.0,792.0"/>
<polygon class="c5" points="1515.0,792.0 1547.5,789.5 1542.5,822.0 1507.5,817.0"/>
<polygon class="c1" points="1500.0,742.0 1525.0,742.0 1520.0,752.0 1500.0,752.0"/>
<polygon class="c5" points="1455.0,842.0 1472.5,837.0 1542.5,823.2 1525.0,892.0 1520.0,872.0 1487.5,869.5 1475.0,872.0 1455.0,874.5"/>
<polygon class="c2" points="1400.0,845.8 1432.5,840.8 1435.0,864.5 1400.0,859.5"/>
<polygon class="c2" points="1452.5,874.5 1487.5,869.5 1485.0,902.0 1450.0,897.0"/>
<polygon class="c1" points="1442.5,902.0 1450.0,897.0 1485.0,902.0 1480.0,927.0 1467.5,934.5 1445.0,922.0 1430.0,917.0"/>
<polygon class="c3" points="1420.0,927.0 1430.0,917.0 1445.0,922.0 1467.5,934.5 1450.0,942.0 1445.0,957.0 1422.5,954.5"/>
<polygon class="c5" points="1482.5,929.5 1512.5,932.0 1505.0,962.0 1480.0,957.0"/>
<polygon class="c3" points="1410.0,957.0 1422.5,954.5 1445.0,957.0 1480.0,957.0 1505.0,962.0 1501.2,972.0 1500.0,995.8 1452.5,984.5 1406.2,962.0"/>
<polygon class="c5" points="1300.0,872.0 1327.5,864.5 1350.0,874.5 1362.5,889.5 1345.0,894.5 1325.0,902.0 1300.0,892.0"/>
<polygon class="c1" points="1353.8,887.0 1380.0,872.0 1400.0,882.0 1392.5,904.5 1375.0,914.5 1367.5,902.0"/>
<polygon class="c2" points="1380.0,872.0 1400.0,867.0 1407.5,884.5 1400.0,897.0 1392.5,904.5 1400.0,882.0"/>
<polygon class="c5" points="1325.0,932.0 1332.5,914.5 1370.0,917.0 1377.5,934.5 1372.5,957.0 1320.0,949.5"/>
<polygon class="c3" points="1375.0,914.5 1392.5,904.5 1407.5,904.5 1395.0,932.0 1386.2,930.8"/>
<polygon class="c1" points="1395.0,932.0 1407.5,904.5 1425.0,907.0 1415.0,932.0 1407.5,942.0"/>
<polygon class="c5" points="1427.5,867.0 1437.5,864.5 1438.8,879.5 1428.8,880.8"/>
<polygon class="c6" points="1300.0,947.0 1317.5,949.5 1323.8,979.5 1312.5,989.5 1305.0,1004.5 1300.0,1002.0"/>
<polygon class="c5" points="1300.0,1002.0 1305.0,1004.5 1312.5,989.5 1323.8,979.5 1322.5,962.0 1350.0,964.5 1357.5,982.0 1345.0,994.5 1337.5,1017.0 1325.0,1029.5 1332.5,1042.0 1337.5,1054.5 1325.0,1067.0 1300.0,1054.5"/>
<polygon class="c3" points="1370.0,957.0 1377.5,934.5 1386.2,930.8 1407.5,944.5 1402.5,967.0 1400.0,992.0 1395.0,1012.0 1382.5,1017.0 1372.5,992.0 1375.0,967.0"/>
<polygon class="c1" points="1387.5,962.0 1402.5,959.5 1400.0,982.0 1390.0,982.0"/>
<polygon class="c2" points="1367.5,992.0 1387.5,982.0 1395.0,1012.0 1382.5,1017.0"/>
<polygon class="c3" points="1300.0,1054.5 1325.0,1067.0 1347.5,1064.5 1352.5,1087.0 1357.5,1102.0 1325.0,1113.0 1300.0,1113.0"/>
<polygon class="c1" points="1347.5,1064.5 1360.0,1052.0 1380.0,1062.0 1395.0,1077.0 1395.0,1092.0 1377.5,1104.5 1357.5,1102.0 1352.5,1087.0"/>
<polygon class="c1" points="1300.0,1092.0 1315.0,1089.5 1325.0,1113.0 1300.0,1113.0"/>
<polygon class="c1" points="1357.5,1102.0 1377.5,1104.5 1382.5,1113.0 1345.0,1113.0"/>
<polygon class="c1" points="1452.5,988.2 1492.5,995.8 1490.0,1004.5 1455.0,1010.8"/>
<polygon class="c1" points="1400.0,1002.0 1427.5,999.5 1422.5,1027.0 1405.0,1029.5 1400.0,1017.0"/>
<polygon class="c1" points="1480.0,1027.0 1505.0,1024.5 1502.5,1069.5 1485.0,1067.0"/>
<polygon class="c5" points="1410.0,1037.0 1420.0,1037.0 1420.0,1057.0 1410.0,1057.0"/>
<polygon class="c5" points="1435.0,1049.5 1447.5,1052.0 1445.0,1064.5 1435.0,1062.0"/>
<polygon class="c3" points="1430.0,1037.0 1480.0,1027.0 1485.0,1067.0 1460.0,1074.5 1450.0,1049.5"/>
<polygon class="c1" points="1440.0,1104.5 1475.0,1102.0 1475.0,1113.0 1440.0,1113.0"/>
<polygon class="c2" points="1405.0,1077.0 1417.5,1082.0 1415.0,1113.0 1402.5,1113.0"/>
<polyline class="bt" points="1562.5,742.0 1563.8,744.5 1542.5,822.0 1525.0,892.0 1505.0,962.0 1507.5,972.0 1510.0,973.2 1505.0,1113.0"/>
<polyline class="b" points="1315.0,744.5 1320.0,752.0 1342.5,753.2 1346.2,754.5 1345.0,767.0 1332.5,799.5 1330.0,824.5 1323.8,854.5 1327.5,864.5 1312.5,872.0 1300.0,869.5"/>
<polyline class="b" points="1342.5,753.2 1400.0,742.0"/>
<polyline class="b" points="1323.8,854.5 1432.5,838.2 1542.5,822.0"/>
<polyline class="bk" points="1465.0,742.0 1460.0,754.5 1450.0,772.0 1445.0,792.0 1447.5,807.0 1440.0,822.0 1437.5,842.0 1436.2,867.0 1440.0,887.0 1435.0,902.0 1425.0,909.5 1420.0,927.0 1410.0,934.5 1407.5,949.5 1403.8,967.0 1405.0,979.5 1400.0,992.0 1395.0,1012.0 1400.0,1029.5 1398.8,1054.5 1401.2,1079.5 1398.8,1113.0"/>
<polyline class="b" points="1300.0,949.5 1367.5,955.8 1377.5,934.5 1386.2,930.8 1407.5,944.5"/>
<polyline class="b" points="1406.2,962.0 1452.5,984.5 1500.0,995.8 1501.2,972.0 1510.0,973.2"/>
</g>
<clipPath id="cp_D2"><rect x="1129.5" y="1112.5" width="477.0" height="372.0"/></clipPath><g clip-path="url(#cp_D2)">
<polygon class="c2" points="1135.0,1113.0 1502.5,1113.0 1497.5,1218.0 1511.2,1245.5 1465.0,1273.0 1457.5,1288.0 1467.5,1310.5 1470.0,1320.5 1478.8,1330.5 1452.5,1353.0 1442.5,1349.2 1430.0,1350.5 1407.5,1345.5 1408.8,1315.5 1332.5,1268.0 1220.0,1198.0 1212.5,1185.5 1205.0,1175.5 1195.0,1171.8 1175.0,1170.5 1162.5,1160.5 1151.0,1160.0 1146.5,1149.5 1140.0,1139.5 1135.0,1127.0 1130.0,1118.0 1130.0,1113.0"/>
<polygon class="c6" points="1130.0,1113.0 1162.5,1113.0 1163.8,1115.0 1196.0,1118.0 1187.0,1130.0 1191.5,1134.8 1174.0,1160.0 1162.5,1160.5 1151.0,1160.0 1146.5,1149.5 1140.0,1139.5 1135.0,1127.0 1130.0,1118.0"/>
<polygon class="c4" points="1162.5,1113.0 1297.0,1113.0 1299.5,1120.8 1283.8,1134.0 1274.5,1151.0 1205.0,1154.2 1207.5,1173.0 1205.0,1175.5 1195.0,1171.8 1175.0,1170.5 1174.0,1160.0 1191.5,1134.8 1187.0,1130.0 1196.0,1118.0 1163.8,1115.0"/>
<polygon class="c1" points="1260.0,1188.0 1270.0,1175.5 1290.0,1138.0 1315.0,1128.0 1330.0,1153.0 1320.0,1163.0 1310.0,1178.0 1305.0,1195.5 1285.0,1198.0 1270.0,1195.5"/>
<polygon class="c1" points="1290.0,1213.0 1310.0,1208.0 1330.0,1225.5 1327.5,1263.0 1317.5,1259.2 1290.0,1240.5"/>
<polygon class="c4" points="1327.5,1263.0 1330.0,1225.5 1340.0,1205.5 1355.0,1195.5 1370.0,1195.5 1380.0,1213.0 1390.0,1210.5 1332.5,1266.8"/>
<polygon class="c4" points="1355.0,1120.5 1370.0,1118.0 1390.0,1138.0 1377.5,1150.5 1362.5,1158.0 1357.5,1140.5"/>
<polygon class="c3" points="1225.0,1195.5 1247.5,1160.5 1270.0,1155.5 1260.0,1188.0 1240.0,1205.5"/>
<polygon class="c3" points="1330.0,1153.0 1355.0,1158.0 1380.0,1163.0 1387.5,1185.5 1370.0,1195.5 1355.0,1195.5 1340.0,1205.5 1330.0,1188.0 1310.0,1178.0 1320.0,1163.0"/>
<polygon class="c4" points="1245.0,1163.0 1270.0,1155.5 1265.0,1175.5 1250.0,1180.5"/>
<polygon class="c1" points="1390.0,1210.5 1332.5,1266.8 1408.8,1315.5 1407.5,1288.0 1400.0,1253.0 1392.5,1233.0"/>
<polygon class="c3" points="1337.5,1268.0 1355.0,1253.0 1380.0,1253.0 1395.0,1273.0 1395.0,1293.0 1380.0,1298.0 1362.5,1285.5"/>
<polygon class="c1" points="1400.0,1113.0 1502.5,1113.0 1500.0,1143.0 1398.8,1156.8 1395.0,1163.0 1390.0,1138.0"/>
<polygon class="c4" points="1417.5,1113.0 1455.0,1113.0 1465.0,1138.0 1430.0,1150.5 1422.5,1133.0"/>
<polygon class="c1" points="1395.0,1163.0 1398.8,1156.8 1500.0,1143.0 1497.5,1195.5 1395.0,1209.2 1397.5,1195.5 1398.8,1178.0"/>
<polygon class="c3" points="1412.5,1163.0 1435.0,1160.5 1437.5,1188.0 1415.0,1190.5"/>
<polygon class="c4" points="1475.0,1170.5 1497.5,1168.0 1497.5,1195.5 1477.5,1198.0"/>
<polygon class="c1" points="1395.0,1209.2 1430.0,1205.5 1417.5,1225.5 1425.0,1245.5 1420.0,1263.0 1412.5,1253.0 1405.0,1233.0"/>
<polygon class="c1" points="1452.5,1213.0 1480.0,1203.0 1487.5,1223.0 1480.0,1253.0 1455.0,1263.0 1447.5,1243.0"/>
<polygon class="c4" points="1480.0,1253.0 1487.5,1223.0 1497.5,1218.0 1511.2,1245.5 1487.5,1260.5"/>
<polygon class="c5" points="1497.5,1230.5 1505.0,1235.5 1511.2,1245.5 1502.5,1250.5"/>
<polygon class="c3" points="1425.0,1220.5 1450.0,1213.0 1447.5,1243.0 1430.0,1248.0"/>
<polygon class="c1" points="1415.0,1263.0 1455.0,1263.0 1465.0,1273.0 1457.5,1288.0 1430.0,1293.0 1417.5,1288.0"/>
<polygon class="c3" points="1430.0,1303.0 1455.0,1298.0 1462.5,1313.0 1455.0,1328.0 1435.0,1325.5"/>
<polygon class="c1" points="1462.5,1325.5 1478.8,1330.5 1452.5,1353.0 1445.0,1345.5"/>
<polygon class="c4" points="1452.5,1363.0 1462.5,1360.5 1475.0,1348.0 1490.0,1345.5 1510.0,1333.0 1520.0,1335.5 1530.0,1330.5 1542.5,1338.0 1555.0,1333.0 1570.0,1343.0 1590.0,1333.0 1595.0,1325.5 1606.0,1323.0 1606.0,1438.0 1592.5,1435.5 1555.0,1440.5 1520.0,1445.5 1480.0,1448.0 1452.5,1449.2 1450.0,1438.0 1452.5,1408.0 1462.5,1393.0 1452.5,1385.5 1445.0,1375.5"/>
<polygon class="c5" points="1475.0,1348.0 1490.0,1345.5 1510.0,1333.0 1520.0,1335.5 1530.0,1330.5 1542.5,1338.0 1555.0,1333.0 1570.0,1343.0 1580.0,1338.0 1560.0,1353.0 1542.5,1363.0 1520.0,1363.0 1505.0,1353.0 1485.0,1358.0"/>
<polygon class="c5" points="1530.0,1398.0 1555.0,1393.0 1580.0,1385.5 1606.0,1373.0 1606.0,1438.0 1592.5,1435.5 1555.0,1440.5 1530.0,1440.5 1520.0,1423.0"/>
<polygon class="c3" points="1540.0,1373.0 1560.0,1368.0 1572.5,1378.0 1565.0,1390.5 1545.0,1390.5"/>
<polygon class="c2" points="1552.5,1375.5 1560.0,1368.0 1567.5,1378.0 1560.0,1385.5"/>
<polygon class="c3" points="1455.0,1420.5 1480.0,1413.0 1515.0,1418.0 1520.0,1445.5 1452.5,1449.2"/>
<polygon class="c1" points="1452.5,1435.5 1467.5,1433.0 1475.0,1445.5 1452.5,1449.2"/>
<polygon class="c3" points="1462.5,1363.0 1472.5,1373.0 1462.5,1388.0 1452.5,1385.5 1445.0,1375.5"/>
<polygon class="c2" points="1445.0,1363.0 1462.5,1360.5 1465.0,1378.0 1452.5,1385.5"/>
<polyline class="b" points="1135.0,1112.5 1130.0,1117.0 1135.0,1127.0 1140.0,1139.5 1146.5,1149.5 1151.0,1160.0 1162.5,1160.5 1175.0,1170.5 1195.0,1171.8 1205.0,1175.5 1212.5,1185.5 1220.0,1198.0 1332.5,1268.0 1408.8,1315.5 1407.5,1345.5"/>
<polyline class="b" points="1205.0,1175.5 1207.5,1173.0 1205.0,1154.2 1274.5,1151.0 1283.8,1134.0 1299.5,1120.8 1317.0,1113.0"/>
<polyline class="b" points="1297.0,1113.0 1299.5,1120.8"/>
<polyline class="b" points="1327.5,1113.0 1328.5,1118.0 1354.8,1123.5 1356.0,1115.5 1374.5,1126.0 1395.5,1122.0 1398.8,1113.0"/>
<polyline class="bk" points="1398.8,1113.0 1395.0,1128.0 1385.0,1145.5 1387.5,1163.0 1398.8,1178.0 1397.5,1195.5 1390.0,1210.5"/>
<polyline class="b" points="1390.0,1210.5 1395.0,1223.0 1392.5,1233.0 1402.5,1245.5 1412.5,1258.0 1417.5,1273.0 1417.5,1288.0 1415.0,1303.0 1412.5,1320.5 1408.8,1338.0 1407.5,1345.5"/>
<polyline class="b" points="1390.0,1210.5 1392.5,1233.0 1400.0,1253.0 1407.5,1288.0 1406.2,1303.0 1408.8,1315.5"/>
<polyline class="b" points="1390.0,1210.5 1332.5,1266.8"/>
<polyline class="b" points="1395.0,1163.0 1398.8,1156.8 1500.0,1143.0"/>
<polyline class="b" points="1395.0,1209.2 1497.5,1195.5"/>
<polyline class="b" points="1502.5,1113.0 1497.5,1218.0 1511.2,1245.5 1465.0,1273.0 1457.5,1288.0 1467.5,1310.5 1470.0,1320.5 1462.5,1333.0 1452.5,1343.0 1442.5,1349.2 1430.0,1350.5 1407.5,1345.5"/>
<polyline class="b" points="1510.0,1333.0 1516.2,1363.0 1525.0,1423.0"/>
<polyline class="b" points="1452.5,1363.0 1462.5,1360.5 1475.0,1348.0 1490.0,1345.5 1510.0,1333.0 1520.0,1335.5 1530.0,1330.5 1542.5,1338.0 1555.0,1333.0 1570.0,1343.0 1590.0,1333.0 1595.0,1325.5 1606.0,1323.0"/>
<polyline class="b" points="1445.0,1375.5 1452.5,1363.0 1462.5,1365.5 1470.0,1375.5 1462.5,1388.0 1452.5,1385.5 1462.5,1393.0 1452.5,1408.0 1450.0,1438.0 1452.5,1449.2"/>
<polyline class="b" points="1452.5,1449.2 1480.0,1446.8 1520.0,1443.0 1555.0,1438.0 1592.5,1433.0 1606.0,1429.2"/>
<polyline class="b" points="1455.0,1443.0 1480.0,1439.2 1520.0,1435.5 1555.0,1431.8 1592.5,1429.2 1606.0,1425.5"/>
</g>
<clipPath id="cp_D3"><rect x="1427.5" y="1112.5" width="477.0" height="372.0"/></clipPath><g clip-path="url(#cp_D3)">
<polygon class="w" points="1470.5,1484.0 1470.5,1353.0 1510.5,1328.0 1904.0,1188.0 1904.0,1484.0"/>
<polygon class="w" points="1428.0,1358.0 1470.5,1353.0 1470.5,1484.0 1428.0,1484.0"/>
<polygon class="c4" points="1451.8,1365.5 1460.5,1360.5 1473.0,1350.5 1488.0,1343.0 1508.0,1333.0 1528.0,1328.0 1543.0,1338.0 1568.0,1340.5 1588.0,1335.5 1590.5,1325.5 1603.0,1323.0 1618.0,1328.0 1648.0,1325.5 1678.0,1325.5 1698.0,1320.5 1723.0,1315.5 1743.0,1303.0 1760.5,1285.5 1783.0,1268.0 1803.0,1260.5 1818.0,1253.0 1843.0,1246.8 1838.0,1250.5 1818.0,1263.0 1803.0,1273.0 1798.0,1283.0 1803.0,1298.0 1818.0,1300.5 1828.0,1293.0 1833.0,1273.0 1850.5,1280.5 1843.0,1308.0 1868.0,1298.0 1885.5,1286.8 1901.8,1289.2 1898.0,1298.0 1878.0,1308.0 1853.0,1320.5 1808.0,1345.5 1753.0,1370.5 1718.0,1383.0 1678.0,1395.5 1643.0,1413.0 1603.0,1430.5 1553.0,1440.5 1528.0,1443.0 1490.5,1453.0 1451.8,1450.5 1449.2,1438.0 1451.8,1408.0 1460.5,1393.0 1453.0,1385.5 1444.2,1375.5"/>
<polygon class="c7" points="1698.0,1320.5 1723.0,1315.5 1743.0,1303.0 1760.5,1285.5 1783.0,1268.0 1803.0,1260.5 1818.0,1253.0 1843.0,1246.8 1838.0,1250.5 1818.0,1263.0 1803.0,1273.0 1798.0,1283.0 1803.0,1298.0 1818.0,1300.5 1828.0,1293.0 1833.0,1273.0 1850.5,1280.5 1843.0,1308.0 1868.0,1298.0 1885.5,1286.8 1901.8,1289.2 1898.0,1298.0 1878.0,1308.0 1853.0,1320.5 1808.0,1345.5 1753.0,1370.5 1718.0,1383.0 1720.5,1373.0 1735.5,1358.0 1703.0,1333.0"/>
<polygon class="c6" points="1648.0,1325.5 1678.0,1325.5 1698.0,1320.5 1703.0,1333.0 1735.5,1358.0 1720.5,1373.0 1718.0,1383.0 1678.0,1395.5 1658.0,1395.5 1663.0,1378.0 1678.0,1373.0 1678.0,1358.0 1668.0,1338.0"/>
<polygon class="c5" points="1508.0,1333.0 1528.0,1328.0 1543.0,1338.0 1568.0,1340.5 1588.0,1335.5 1590.5,1325.5 1603.0,1323.0 1618.0,1328.0 1648.0,1325.5 1668.0,1338.0 1678.0,1358.0 1678.0,1373.0 1663.0,1378.0 1658.0,1395.5 1643.0,1413.0 1638.0,1388.0 1648.0,1370.5 1635.5,1353.0 1618.0,1338.0 1593.0,1343.0 1578.0,1353.0 1548.0,1363.0 1528.0,1360.5 1513.0,1353.0"/>
<polygon class="c5" points="1525.5,1398.0 1548.0,1405.5 1578.0,1393.0 1603.0,1388.0 1638.0,1388.0 1643.0,1413.0 1603.0,1430.5 1553.0,1440.5 1528.0,1443.0 1525.5,1425.5"/>
<polygon class="c5" points="1473.0,1350.5 1488.0,1343.0 1508.0,1333.0 1513.0,1353.0 1503.0,1365.5 1483.0,1363.0"/>
<polygon class="c3" points="1538.0,1378.0 1548.0,1365.5 1568.0,1363.0 1583.0,1373.0 1578.0,1390.5 1558.0,1398.0 1543.0,1390.5"/>
<polygon class="c3" points="1593.0,1363.0 1603.0,1348.0 1625.5,1345.5 1638.0,1358.0 1635.5,1375.5 1618.0,1383.0 1600.5,1378.0"/>
<polygon class="c2" points="1545.5,1375.5 1558.0,1368.0 1570.5,1375.5 1568.0,1385.5 1558.0,1390.5 1548.0,1385.5"/>
<polygon class="c2" points="1603.0,1360.5 1613.0,1355.5 1625.5,1360.5 1623.0,1373.0 1608.0,1375.5"/>
<polygon class="c1" points="1553.0,1375.5 1563.0,1374.2 1564.2,1384.2 1554.2,1385.5"/>
<polygon class="c1" points="1609.2,1360.5 1619.2,1360.0 1620.0,1370.5 1610.0,1371.8"/>
<polygon class="c3" points="1453.0,1420.5 1478.0,1413.0 1513.0,1418.0 1525.5,1425.5 1528.0,1443.0 1490.5,1453.0 1451.8,1450.5"/>
<polygon class="c2" points="1465.5,1423.0 1493.0,1421.8 1495.5,1435.5 1468.0,1436.8"/>
<polygon class="c1" points="1451.8,1435.5 1465.5,1434.2 1473.0,1448.0 1451.8,1450.5"/>
<polygon class="c3" points="1460.5,1360.5 1473.0,1350.5 1483.0,1363.0 1470.5,1375.5 1460.5,1388.0 1453.0,1385.5 1444.2,1375.5"/>
<polygon class="c2" points="1444.2,1363.0 1460.5,1360.5 1463.0,1378.0 1453.0,1385.5"/>
<polygon class="c7" points="1851.8,1226.8 1863.0,1220.5 1886.8,1215.0 1888.0,1219.2 1875.5,1228.0 1858.0,1234.8"/>
<polygon class="c7" points="1818.0,1256.8 1838.0,1248.0 1843.0,1246.8 1828.0,1258.0"/>
<polygon class="dk" points="1454.2,1435.5 1490.5,1430.0 1528.0,1427.5 1558.0,1425.5 1574.2,1428.5 1568.0,1435.0 1528.0,1440.5 1490.5,1446.8 1455.5,1449.2"/>
<polyline class="b" points="1444.2,1375.5 1451.8,1365.5 1460.5,1360.5 1473.0,1350.5 1488.0,1343.0 1508.0,1333.0 1528.0,1328.0 1543.0,1338.0 1568.0,1340.5 1588.0,1335.5 1590.5,1325.5 1603.0,1323.0 1618.0,1328.0 1648.0,1325.5 1678.0,1325.5 1698.0,1320.5 1723.0,1315.5 1743.0,1303.0 1760.5,1285.5 1783.0,1268.0 1803.0,1260.5 1818.0,1253.0 1843.0,1246.8 1838.0,1250.5 1818.0,1263.0 1803.0,1273.0 1798.0,1283.0 1803.0,1298.0 1818.0,1300.5 1828.0,1293.0 1833.0,1273.0 1850.5,1280.5 1843.0,1308.0 1868.0,1298.0 1885.5,1286.8 1901.8,1289.2 1898.0,1298.0 1878.0,1308.0 1853.0,1320.5 1808.0,1345.5 1753.0,1370.5 1718.0,1383.0 1678.0,1395.5 1643.0,1413.0 1603.0,1430.5 1553.0,1440.5 1528.0,1443.0 1490.5,1453.0 1451.8,1450.5 1449.2,1438.0 1451.8,1408.0 1460.5,1393.0 1453.0,1385.5 1444.2,1375.5"/>
<polyline class="b" points="1451.8,1450.5 1490.5,1449.2 1528.0,1438.0 1553.0,1438.0 1603.0,1426.8 1643.0,1409.2 1678.0,1391.8 1718.0,1379.2 1753.0,1366.8 1808.0,1341.8 1853.0,1316.8 1878.0,1304.2"/>
<polyline class="b" points="1525.5,1425.5 1540.5,1423.0 1553.0,1413.0 1568.0,1410.5 1578.0,1405.5 1593.0,1410.5 1590.5,1400.5 1603.0,1405.5 1620.5,1400.5 1628.0,1393.0 1643.0,1395.5 1653.0,1385.5 1660.5,1395.5"/>
<polyline class="b" points="1510.5,1338.0 1515.5,1363.0 1525.5,1425.5"/>
<polyline class="b" points="1738.0,1303.0 1753.0,1313.0 1763.0,1328.0 1778.0,1320.5 1788.0,1303.0 1798.0,1303.0"/>
<polyline class="b" points="1718.0,1338.0 1735.5,1343.0 1753.0,1358.0 1763.0,1353.0 1783.0,1348.0 1788.0,1338.0"/>
<polyline class="b" points="1690.5,1345.5 1708.0,1341.8 1728.0,1344.2 1718.0,1339.2"/>
<polyline class="b" points="1763.0,1288.0 1773.0,1298.0 1783.0,1288.0 1790.5,1293.0 1798.0,1283.0"/>
<polygon class="b" points="1851.8,1226.8 1863.0,1220.5 1886.8,1215.0 1888.0,1219.2 1875.5,1228.0 1858.0,1234.8"/>
</g>
<clipPath id="cp_E1"><rect x="1299.5" y="1329.5" width="241.0" height="155.0"/></clipPath><g clip-path="url(#cp_E1)">
<polygon class="dk" points="1419.7,1429.6 1431.1,1426.4 1448.7,1440.9 1448.7,1446.6 1426.0,1450.4 1417.9,1443.4"/>
<polygon class="b" points="1407.8,1346.4 1409.0,1355.2 1404.6,1367.8 1404.0,1379.2 1399.6,1393.0 1394.5,1405.6 1393.3,1411.9 1383.2,1418.2 1380.7,1418.2 1382.6,1410.7 1384.5,1396.8 1390.8,1386.7 1398.3,1371.6 1404.6,1355.2"/>
<polyline class="b" points="1409.7,1380.4 1413.4,1377.9 1418.5,1375.4 1426.0,1372.9 1427.3,1377.9 1433.6,1376.6 1438.7,1381.7 1443.7,1385.5 1446.2,1391.8 1456.3,1395.5 1456.3,1404.4 1452.5,1405.6 1451.9,1429.6 1448.7,1434.6 1445.0,1439.7 1447.5,1444.1"/>
<polyline class="b" points="1429.8,1350.2 1432.4,1361.5 1433.6,1371.6 1436.1,1377.9 1438.7,1381.7"/>
<polyline class="b" points="1431.1,1352.7 1437.4,1355.2 1439.9,1362.8 1445.0,1360.3 1442.4,1367.8 1437.4,1366.6"/>
<polyline class="b" points="1398.3,1400.6 1404.6,1404.4 1410.9,1418.2 1418.5,1415.7 1422.3,1427.1 1426.0,1429.6 1431.1,1427.1"/>
<polyline class="b" points="1380.7,1428.3 1376.9,1437.1 1379.4,1443.4 1385.7,1448.5 1388.2,1452.9"/>
<polyline class="b" points="1387.0,1456.0 1403.4,1452.9 1408.4,1451.0 1413.4,1449.7"/>
<polygon class="b" points="1400.8,1462.4 1413.4,1457.3 1426.0,1453.5 1438.7,1448.5 1448.7,1446.0 1426.0,1456.0 1413.4,1461.1 1402.1,1465.5"/>
<polyline class="b" points="1408.4,1443.4 1416.0,1442.2 1418.5,1449.7"/>
<polygon class="b" points="1337.8,1446.0 1339.1,1435.9 1349.2,1432.1 1365.5,1430.2 1369.3,1432.1 1373.1,1443.4 1370.6,1451.0 1363.0,1457.3 1355.5,1467.4 1341.6,1473.7 1329.0,1480.0 1325.8,1477.5 1328.4,1467.4 1337.8,1456.0"/>
<polyline class="b" points="1445.0,1369.1 1443.7,1377.9 1447.5,1384.2 1446.2,1391.8"/>
<polyline class="b" points="1451.9,1359.6 1458.8,1358.4 1466.4,1365.3 1471.4,1379.2"/>
<polyline class="b" points="1451.3,1367.8 1457.6,1371.6 1456.3,1380.4"/>
<polygon class="b" points="1409.7,1379.2 1413.4,1376.6 1421.0,1377.9 1416.0,1381.7"/>
</g>
<clipPath id="cp_F1"><rect x="899.5" y="279.5" width="301.0" height="235.0"/></clipPath><g clip-path="url(#cp_F1)">
<polygon class="c6" points="900.0,280.0 1200.0,280.0 1200.0,514.0 900.0,514.0"/>
<polygon class="c7" points="1183.8,311.5 1200.0,310.0 1200.0,447.1 1194.0,447.9"/>
<polygon class="c3" points="900.0,280.0 1030.8,280.0 1016.7,300.5 1030.1,309.2 1026.1,330.4 1015.1,331.2 1015.9,343.1 1002.5,344.6 964.6,373.8 944.9,374.6 943.4,402.2 959.1,403.0 959.6,410.8 950.4,409.3 936.3,406.1 928.4,410.8 915.8,409.3 900.0,407.7"/>
<polygon class="c2" points="900.0,280.0 948.9,280.0 944.1,298.9 931.5,311.5 930.0,319.4 917.3,311.5 900.0,298.9"/>
<polygon class="c5" points="900.0,300.5 915.8,311.5 909.5,317.8 900.0,319.4"/>
<polygon class="c5" points="950.4,280.0 959.9,280.0 956.8,287.9 950.4,286.3"/>
<polygon class="w" points="988.3,280.0 1030.8,280.0 1016.7,300.5 1030.1,309.2 1024.5,311.5 1016.7,316.3 1007.2,325.7 1000.9,327.3 994.6,321.0 982.0,319.4 975.7,314.7 963.1,313.1 959.9,310.0 970.9,300.5 982.0,289.5"/>
<polygon class="c5" points="975.7,321.0 982.0,319.4 994.6,321.0 1000.9,327.3 1007.2,325.7 1016.7,316.3 1024.5,311.5 1030.1,309.2 1026.1,330.4 1015.1,331.2 1015.9,343.1 1002.5,344.6 997.7,339.9 988.3,332.0"/>
<polygon class="c4" points="975.7,322.6 988.3,332.0 997.7,339.9 1002.5,344.6 978.8,358.8 982.0,343.1"/>
<polygon class="c1" points="950.4,313.1 959.9,310.0 963.1,313.1 975.7,314.7 982.0,319.4 975.7,321.0 959.9,322.6 952.0,321.0"/>
<polygon class="c2" points="939.4,332.0 959.9,322.6 975.7,322.6 982.0,343.1 978.8,358.8 972.5,355.7 959.9,350.9 939.4,347.8 931.5,349.4 923.6,346.2 931.5,339.9"/>
<polygon class="c1" points="922.1,346.2 928.4,339.9 939.4,340.7 936.3,347.8 928.4,350.9"/>
<polygon class="c5" points="952.0,505.4 965.4,507.8 965.4,514.0 948.9,514.0"/>
<polygon class="c4" points="1030.8,280.0 1067.1,280.0 1106.5,303.6 1119.9,461.3 1034.0,514.0 965.4,514.0 960.7,436.1 959.1,403.0 943.4,402.2 944.9,374.6 964.6,373.8 1002.5,344.6 1015.9,343.1 1015.1,331.2 1026.1,330.4 1030.1,309.2 1016.7,300.5"/>
<polygon class="c1" points="944.9,374.6 964.6,373.8 1002.5,344.6 1008.8,347.8 1011.9,357.2 1023.0,368.3 1030.8,377.7 1034.0,385.6 1041.9,399.8 1048.2,409.3 1052.9,418.7 1055.3,431.3 1059.2,436.1 1046.6,446.3 1038.7,431.3 1030.8,421.9 1024.5,418.7 1019.8,420.3 982.0,422.7 969.4,431.3 963.1,445.5 960.7,436.1 959.1,403.0 943.4,402.2"/>
<polygon class="c3" points="1038.7,404.5 1059.2,391.9 1073.4,388.8 1110.5,379.3 1116.0,426.6 1103.4,426.6 1084.5,428.2 1071.8,436.1 1059.2,436.1 1055.3,431.3 1052.9,418.7 1048.2,409.3"/>
<polygon class="c5" points="1059.2,436.1 1071.8,436.1 1084.5,428.2 1103.4,426.6 1116.0,426.6 1119.9,461.3 1071.8,486.5 1065.5,472.3 1060.8,453.4"/>
<polyline class="b" points="1030.8,280.0 1016.7,300.5 1030.1,309.2 1026.1,330.4 1015.1,331.2 1015.9,343.1 1002.5,344.6 964.6,373.8 944.9,374.6 943.4,402.2 959.1,403.0 960.7,436.1 965.4,514.0"/>
<polyline class="b" points="900.0,431.3 960.7,436.1"/>
<polyline class="b" points="1067.1,280.0 1106.5,303.6 1131.7,317.0 1200.0,308.4"/>
<polyline class="b" points="1106.5,303.6 1119.9,461.3 1034.0,514.0"/>
<polyline class="b" points="1183.8,311.5 1194.8,514.0"/>
<polyline class="b" points="952.0,505.4 965.4,507.8"/>
</g>
<clipPath id="cp_Z"><rect x="-0.5" y="-0.5" width="1905.0" height="1485.0"/></clipPath><g clip-path="url(#cp_Z)">


</g>
<g class="d">
<circle cx="1149.5" cy="114.5" r="3.7"/>
<circle cx="954.5" cy="319.3" r="3.7"/>
<circle cx="932.2" cy="343.3" r="3.7"/>
<circle cx="1028.2" cy="407.6" r="3.7"/>
<circle cx="1491.8" cy="108.0" r="3.7"/>
<circle cx="175.0" cy="581.0" r="3.7"/>
<circle cx="207.5" cy="583.5" r="3.7"/>
<circle cx="227.5" cy="560.5" r="3.7"/>
<circle cx="293.0" cy="553.0" r="3.7"/>
<circle cx="258.8" cy="571.5" r="3.7"/>
<circle cx="251.2" cy="576.5" r="3.7"/>
<circle cx="263.8" cy="590.5" r="3.7"/>
<circle cx="298.5" cy="582.5" r="3.7"/>
<circle cx="312.0" cy="592.0" r="3.7"/>
<circle cx="176.2" cy="604.8" r="3.7"/>
<circle cx="182.5" cy="610.5" r="3.7"/>
<circle cx="195.0" cy="616.0" r="3.7"/>
<circle cx="187.5" cy="621.8" r="3.7"/>
<circle cx="180.0" cy="631.0" r="3.7"/>
<circle cx="212.5" cy="615.5" r="3.7"/>
<circle cx="224.5" cy="619.8" r="3.7"/>
<circle cx="207.5" cy="628.0" r="3.7"/>
<circle cx="202.5" cy="636.0" r="3.7"/>
<circle cx="212.5" cy="635.5" r="3.7"/>
<circle cx="218.8" cy="634.8" r="3.7"/>
<circle cx="241.2" cy="637.2" r="3.7"/>
<circle cx="221.2" cy="647.2" r="3.7"/>
<circle cx="273.8" cy="629.8" r="3.7"/>
<circle cx="302.0" cy="623.0" r="3.7"/>
<circle cx="283.0" cy="605.0" r="3.7"/>
<circle cx="259.2" cy="612.2" r="3.7"/>
<circle cx="214.5" cy="606.0" r="3.7"/>
<circle cx="213.2" cy="677.2" r="3.7"/>
<circle cx="219.5" cy="675.5" r="3.7"/>
<circle cx="228.8" cy="677.2" r="3.7"/>
<circle cx="230.0" cy="683.5" r="3.7"/>
<circle cx="231.2" cy="688.5" r="3.7"/>
<circle cx="212.5" cy="692.2" r="3.7"/>
<circle cx="218.8" cy="691.0" r="3.7"/>
<circle cx="215.0" cy="696.0" r="3.7"/>
<circle cx="222.5" cy="698.5" r="3.7"/>
<circle cx="231.2" cy="698.5" r="3.7"/>
<circle cx="225.0" cy="703.5" r="3.7"/>
<circle cx="220.0" cy="704.8" r="3.7"/>
<circle cx="232.5" cy="703.5" r="3.7"/>
<circle cx="490.8" cy="566.8" r="3.7"/>
<circle cx="442.5" cy="591.5" r="3.7"/>
<circle cx="525.8" cy="581.0" r="3.7"/>
<circle cx="523.2" cy="587.5" r="3.7"/>
<circle cx="513.8" cy="596.0" r="3.7"/>
<circle cx="512.5" cy="599.8" r="3.7"/>
<circle cx="517.5" cy="602.2" r="3.7"/>
<circle cx="523.8" cy="601.0" r="3.7"/>
<circle cx="520.0" cy="604.8" r="3.7"/>
<circle cx="526.2" cy="603.5" r="3.7"/>
<circle cx="530.0" cy="606.0" r="3.7"/>
<circle cx="534.5" cy="610.5" r="3.7"/>
<circle cx="515.0" cy="606.0" r="3.7"/>
<circle cx="513.8" cy="619.8" r="3.7"/>
<circle cx="517.2" cy="639.2" r="3.7"/>
<circle cx="487.0" cy="690.5" r="3.7"/>
<circle cx="470.8" cy="726.5" r="3.7"/>
<circle cx="784.8" cy="513.5" r="3.7"/>
<circle cx="864.8" cy="600.2" r="3.7"/>
<circle cx="826.0" cy="613.0" r="3.7"/>
<circle cx="879.8" cy="613.5" r="3.7"/>
<circle cx="791.0" cy="636.8" r="3.7"/>
<circle cx="833.5" cy="647.8" r="3.7"/>
<circle cx="872.2" cy="629.8" r="3.7"/>
<circle cx="871.0" cy="636.0" r="3.7"/>
<circle cx="863.5" cy="643.5" r="3.7"/>
<circle cx="868.5" cy="644.8" r="3.7"/>
<circle cx="873.5" cy="642.2" r="3.7"/>
<circle cx="876.0" cy="647.2" r="3.7"/>
<circle cx="872.2" cy="648.5" r="3.7"/>
<circle cx="881.0" cy="641.0" r="3.7"/>
<circle cx="888.5" cy="646.5" r="3.7"/>
<circle cx="894.8" cy="646.0" r="3.7"/>
<circle cx="878.5" cy="648.5" r="3.7"/>
<circle cx="906.5" cy="651.0" r="3.7"/>
<circle cx="911.0" cy="659.8" r="3.7"/>
<circle cx="804.0" cy="677.0" r="3.7"/>
<circle cx="770.5" cy="683.5" r="3.7"/>
<circle cx="643.5" cy="647.2" r="3.7"/>
<circle cx="634.0" cy="673.5" r="3.7"/>
<circle cx="651.8" cy="674.2" r="3.7"/>
<circle cx="699.2" cy="692.2" r="3.7"/>
<circle cx="713.0" cy="691.0" r="3.7"/>
<circle cx="716.5" cy="689.0" r="3.7"/>
<circle cx="669.8" cy="704.2" r="3.7"/>
<circle cx="990.2" cy="629.8" r="3.7"/>
<circle cx="1031.0" cy="406.0" r="3.7"/>
<circle cx="1029.0" cy="408.0" r="3.7"/>
<circle cx="1036.0" cy="593.5" r="3.7"/>
<circle cx="1076.8" cy="626.8" r="3.7"/>
<circle cx="1088.5" cy="627.2" r="3.7"/>
<circle cx="1086.0" cy="632.2" r="3.7"/>
<circle cx="1078.0" cy="639.8" r="3.7"/>
<circle cx="1094.8" cy="622.2" r="3.7"/>
<circle cx="1224.0" cy="661.5" r="3.7"/>
<circle cx="1236.5" cy="682.8" r="3.7"/>
<circle cx="1298.0" cy="678.8" r="3.7"/>
<circle cx="1340.2" cy="681.0" r="3.7"/>
<circle cx="1149.5" cy="651.5" r="3.7"/>
<circle cx="1542.0" cy="694.0" r="3.7"/>
<circle cx="1518.8" cy="737.2" r="3.7"/>
<circle cx="1404.5" cy="704.8" r="3.7"/>
<circle cx="1399.5" cy="710.5" r="3.7"/>
<circle cx="1390.8" cy="731.0" r="3.7"/>
<circle cx="1400.8" cy="728.5" r="3.7"/>
<circle cx="1404.5" cy="733.5" r="3.7"/>
<circle cx="1409.5" cy="733.0" r="3.7"/>
<circle cx="1429.5" cy="741.0" r="3.7"/>
<circle cx="1458.2" cy="734.0" r="3.7"/>
<circle cx="1462.0" cy="738.5" r="3.7"/>
<circle cx="1412.0" cy="712.2" r="3.7"/>
<circle cx="1464.0" cy="554.2" r="3.7"/>
<circle cx="1473.2" cy="559.8" r="3.7"/>
<circle cx="1448.2" cy="632.2" r="3.7"/>
<circle cx="108.0" cy="830.0" r="3.7"/>
<circle cx="128.2" cy="956.5" r="3.7"/>
<circle cx="65.5" cy="905.8" r="3.7"/>
<circle cx="323.8" cy="962.8" r="3.7"/>
<circle cx="439.2" cy="949.0" r="3.7"/>
<circle cx="654.0" cy="772.5" r="3.7"/>
<circle cx="709.0" cy="767.0" r="3.7"/>
<circle cx="709.2" cy="787.5" r="3.7"/>
<circle cx="732.5" cy="786.5" r="3.7"/>
<circle cx="672.0" cy="817.2" r="3.7"/>
<circle cx="499.8" cy="804.5" r="3.7"/>
<circle cx="790.0" cy="827.8" r="3.7"/>
<circle cx="636.5" cy="942.0" r="3.7"/>
<circle cx="652.5" cy="941.2" r="3.7"/>
<circle cx="712.2" cy="955.8" r="3.7"/>
<circle cx="843.8" cy="955.0" r="3.7"/>
<circle cx="914.0" cy="881.0" r="3.7"/>
<circle cx="893.5" cy="957.0" r="3.7"/>
<circle cx="898.5" cy="952.0" r="3.7"/>
<circle cx="902.2" cy="950.0" r="3.7"/>
<circle cx="893.5" cy="961.5" r="3.7"/>
<circle cx="917.2" cy="949.0" r="3.7"/>
<circle cx="922.2" cy="953.2" r="3.7"/>
<circle cx="927.2" cy="956.5" r="3.7"/>
<circle cx="934.8" cy="953.2" r="3.7"/>
<circle cx="931.0" cy="954.5" r="3.7"/>
<circle cx="1164.5" cy="759.5" r="3.7"/>
<circle cx="993.2" cy="887.0" r="3.7"/>
<circle cx="1052.8" cy="885.2" r="3.7"/>
<circle cx="997.0" cy="931.5" r="3.7"/>
<circle cx="1045.2" cy="968.2" r="3.7"/>
<circle cx="1255.2" cy="1038.8" r="3.7"/>
<circle cx="1207.5" cy="1053.5" r="3.7"/>
<circle cx="1235.8" cy="1083.8" r="3.7"/>
<circle cx="1249.5" cy="1083.2" r="3.7"/>
<circle cx="1292.0" cy="1080.8" r="3.7"/>
<circle cx="1341.2" cy="745.8" r="3.7"/>
<circle cx="1340.0" cy="749.5" r="3.7"/>
<circle cx="1378.8" cy="759.0" r="3.7"/>
<circle cx="1410.0" cy="759.0" r="3.7"/>
<circle cx="1401.2" cy="773.8" r="3.7"/>
<circle cx="1351.8" cy="784.0" r="3.7"/>
<circle cx="1425.0" cy="785.8" r="3.7"/>
<circle cx="1354.0" cy="819.5" r="3.7"/>
<circle cx="1432.5" cy="834.5" r="3.7"/>
<circle cx="1426.2" cy="752.5" r="3.7"/>
<circle cx="1436.2" cy="752.0" r="3.7"/>
<circle cx="1430.0" cy="744.0" r="3.7"/>
<circle cx="1440.0" cy="763.2" r="3.7"/>
<circle cx="1437.5" cy="769.5" r="3.7"/>
<circle cx="1436.2" cy="774.5" r="3.7"/>
<circle cx="1440.0" cy="777.0" r="3.7"/>
<circle cx="1443.8" cy="773.2" r="3.7"/>
<circle cx="1447.5" cy="769.5" r="3.7"/>
<circle cx="1452.0" cy="761.5" r="3.7"/>
<circle cx="1458.8" cy="750.8" r="3.7"/>
<circle cx="1442.5" cy="779.5" r="3.7"/>
<circle cx="1446.2" cy="778.2" r="3.7"/>
<circle cx="1453.8" cy="780.0" r="3.7"/>
<circle cx="1465.0" cy="807.8" r="3.7"/>
<circle cx="1386.0" cy="892.2" r="3.7"/>
<circle cx="1419.2" cy="916.2" r="3.7"/>
<circle cx="1470.8" cy="905.8" r="3.7"/>
<circle cx="1398.0" cy="963.2" r="3.7"/>
<circle cx="1470.5" cy="996.2" r="3.7"/>
<circle cx="1385.5" cy="1012.0" r="3.7"/>
<circle cx="1410.0" cy="1012.8" r="3.7"/>
<circle cx="1492.5" cy="1052.0" r="3.7"/>
<circle cx="1367.0" cy="1068.2" r="3.7"/>
<circle cx="1395.0" cy="1080.8" r="3.7"/>
<circle cx="1407.5" cy="1086.5" r="3.7"/>
<circle cx="1405.0" cy="1089.5" r="3.7"/>
<circle cx="1361.5" cy="1096.5" r="3.7"/>
<circle cx="1458.8" cy="1110.8" r="3.7"/>
<circle cx="1313.8" cy="1118.0" r="3.7"/>
<circle cx="1341.2" cy="1132.2" r="3.7"/>
<circle cx="1337.0" cy="1146.0" r="3.7"/>
<circle cx="1380.8" cy="1152.0" r="3.7"/>
<circle cx="1395.8" cy="1150.5" r="3.7"/>
<circle cx="1410.0" cy="1140.0" r="3.7"/>
<circle cx="1406.2" cy="1123.5" r="3.7"/>
<circle cx="1282.0" cy="1168.5" r="3.7"/>
<circle cx="1303.2" cy="1165.8" r="3.7"/>
<circle cx="1307.5" cy="1183.8" r="3.7"/>
<circle cx="1341.5" cy="1180.5" r="3.7"/>
<circle cx="1381.2" cy="1170.0" r="3.7"/>
<circle cx="1271.0" cy="1190.5" r="3.7"/>
<circle cx="1220.5" cy="1192.5" r="3.7"/>
<circle cx="1300.8" cy="1207.2" r="3.7"/>
<circle cx="1305.0" cy="1227.2" r="3.7"/>
<circle cx="1300.8" cy="1230.5" r="3.7"/>
<circle cx="1316.5" cy="1241.2" r="3.7"/>
<circle cx="1398.2" cy="1176.8" r="3.7"/>
<circle cx="1397.5" cy="1194.2" r="3.7"/>
<circle cx="1393.8" cy="1195.0" r="3.7"/>
<circle cx="1458.8" cy="1113.0" r="3.7"/>
<circle cx="1483.0" cy="1129.2" r="3.7"/>
<circle cx="1481.5" cy="1148.5" r="3.7"/>
<circle cx="1464.5" cy="1158.0" r="3.7"/>
<circle cx="1463.8" cy="1175.5" r="3.7"/>
<circle cx="1452.5" cy="1192.2" r="3.7"/>
<circle cx="1445.5" cy="1201.0" r="3.7"/>
<circle cx="1419.2" cy="1195.5" r="3.7"/>
<circle cx="1418.8" cy="1200.5" r="3.7"/>
<circle cx="1417.5" cy="1205.5" r="3.7"/>
<circle cx="1416.2" cy="1209.2" r="3.7"/>
<circle cx="1434.5" cy="1209.8" r="3.7"/>
<circle cx="1486.2" cy="1206.8" r="3.7"/>
<circle cx="1482.5" cy="1208.0" r="3.7"/>
<circle cx="1405.0" cy="1220.5" r="3.7"/>
<circle cx="1455.0" cy="1216.0" r="3.7"/>
<circle cx="1439.2" cy="1225.5" r="3.7"/>
<circle cx="1465.0" cy="1229.2" r="3.7"/>
<circle cx="1461.2" cy="1231.8" r="3.7"/>
<circle cx="1458.0" cy="1238.0" r="3.7"/>
<circle cx="1453.8" cy="1244.2" r="3.7"/>
<circle cx="1451.2" cy="1248.0" r="3.7"/>
<circle cx="1415.5" cy="1247.5" r="3.7"/>
<circle cx="1419.5" cy="1262.2" r="3.7"/>
<circle cx="1440.8" cy="1264.2" r="3.7"/>
<circle cx="1401.2" cy="1270.0" r="3.7"/>
<circle cx="1380.0" cy="1241.8" r="3.7"/>
<circle cx="1390.0" cy="1241.0" r="3.7"/>
<circle cx="1383.8" cy="1249.2" r="3.7"/>
<circle cx="1393.8" cy="1251.0" r="3.7"/>
<circle cx="1389.5" cy="1258.8" r="3.7"/>
<circle cx="1347.0" cy="1271.0" r="3.7"/>
<circle cx="1350.5" cy="1277.5" r="3.7"/>
<circle cx="1360.0" cy="1278.5" r="3.7"/>
<circle cx="1376.2" cy="1276.8" r="3.7"/>
<circle cx="1380.0" cy="1278.0" r="3.7"/>
<circle cx="1401.2" cy="1285.5" r="3.7"/>
<circle cx="1406.2" cy="1286.8" r="3.7"/>
<circle cx="1419.2" cy="1289.2" r="3.7"/>
<circle cx="1430.0" cy="1296.8" r="3.7"/>
<circle cx="1436.2" cy="1300.5" r="3.7"/>
<circle cx="1442.5" cy="1303.0" r="3.7"/>
<circle cx="1445.5" cy="1305.5" r="3.7"/>
<circle cx="1458.2" cy="1303.0" r="3.7"/>
<circle cx="1397.0" cy="1300.0" r="3.7"/>
<circle cx="1416.2" cy="1310.5" r="3.7"/>
<circle cx="1423.8" cy="1311.8" r="3.7"/>
<circle cx="1428.8" cy="1309.2" r="3.7"/>
<circle cx="1466.2" cy="1314.2" r="3.7"/>
<circle cx="1462.5" cy="1320.5" r="3.7"/>
<circle cx="1427.5" cy="1320.5" r="3.7"/>
<circle cx="1432.5" cy="1325.5" r="3.7"/>
<circle cx="1450.0" cy="1333.0" r="3.7"/>
<circle cx="1445.0" cy="1338.0" r="3.7"/>
<circle cx="1440.0" cy="1343.0" r="3.7"/>
<circle cx="1412.5" cy="1328.0" r="3.7"/>
<circle cx="1420.0" cy="1328.0" r="3.7"/>
<circle cx="1415.0" cy="1333.0" r="3.7"/>
<circle cx="1411.2" cy="1338.0" r="3.7"/>
<circle cx="1417.5" cy="1338.0" r="3.7"/>
<circle cx="1423.8" cy="1335.5" r="3.7"/>
<circle cx="1428.8" cy="1338.0" r="3.7"/>
<circle cx="1412.5" cy="1343.0" r="3.7"/>
<circle cx="1420.0" cy="1343.0" r="3.7"/>
<circle cx="1426.2" cy="1343.0" r="3.7"/>
<circle cx="1432.5" cy="1345.5" r="3.7"/>
<circle cx="1417.5" cy="1346.8" r="3.7"/>
<circle cx="1438.8" cy="1344.2" r="3.7"/>
<circle cx="1443.8" cy="1339.2" r="3.7"/>
<circle cx="1410.0" cy="1333.0" r="3.7"/>
<circle cx="1422.5" cy="1330.5" r="3.7"/>
<circle cx="1415.0" cy="1345.5" r="3.7"/>
<circle cx="1613.8" cy="1365.5" r="3.7"/>
<circle cx="1558.0" cy="1379.5" r="3.7"/>
<circle cx="1456.8" cy="1367.0" r="3.7"/>
<circle cx="1501.8" cy="1391.8" r="3.7"/>
<circle cx="1471.8" cy="1428.0" r="3.7"/>
<circle cx="1473.8" cy="1433.0" r="3.7"/>
<circle cx="1486.2" cy="1427.5" r="3.7"/>
<circle cx="1489.2" cy="1428.5" r="3.7"/>
<circle cx="1452.2" cy="1449.8" r="3.7"/>
</g>
<g class="lb">
<text x="1100.8" y="168.0">St. Lawrence</text>
<text x="928.0" y="330.7">Jefferson</text>
<text x="1462.2" y="105.5">Clinton</text>
<text x="1310.5" y="161.2">Franklin</text>
<text x="1428.5" y="295.0">Essex</text>
<text x="241.2" y="604.2">Niagara</text>
<text x="369.5" y="585.5">Orleans</text>
<text x="501.2" y="617.5">Monroe</text>
<text x="381.2" y="669.2">Genesee</text>
<text x="1031.0" y="400.5">Lewis</text>
<text x="861.8" y="520.0">Oswego</text>
<text x="657.2" y="610.5">Wayne</text>
<text x="1032.2" y="590.0">Oneida</text>
<text x="785.5" y="662.5">Cayuga</text>
<text x="858.0" y="661.8">Onondaga</text>
<text x="998.5" y="683.5">Madison</text>
<text x="717.2" y="739.2">Seneca</text>
<text x="1276.5" y="450.0">Hamilton</text>
<text x="1157.5" y="517.5">Herkimer</text>
<text x="1425.8" y="500.5">Warren</text>
<text x="1521.5" y="546.0">Washington</text>
<text x="1282.0" y="623.8">Fulton</text>
<text x="1419.0" y="640.0">Saratoga</text>
<text x="1284.5" y="698.0">Montgomery</text>
<text x="1372.0" y="723.0">Schenectady</text>
<text x="86.2" y="903.5">Chautauqua</text>
<text x="260.0" y="907.8">Cattaraugus</text>
<text x="421.2" y="911.5">Allegany</text>
<text x="372.0" y="769.0">Wyoming</text>
<text x="633.5" y="795.2">Yates</text>
<text x="579.2" y="901.0">Steuben</text>
<text x="721.0" y="868.5">Schuyler</text>
<text x="794.0" y="850.2">Tompkins</text>
<text x="889.8" y="799.5">Cortland</text>
<text x="829.8" y="929.0">Tioga</text>
<text x="725.5" y="948.0">Chemung</text>
<text x="1004.5" y="842.8">Chenango</text>
<text x="1141.5" y="796.5">Otsego</text>
<text x="1281.5" y="802.0">Schoharie</text>
<text x="1394.0" y="794.5">Albany</text>
<text x="1349.0" y="904.5">Greene</text>
<text x="1164.5" y="936.0">Delaware</text>
<text x="1303.8" y="1035.8">Ulster</text>
<text x="1205.0" y="1087.8">Sullivan</text>
<text x="1501.2" y="763.5">Rensselaer</text>
<text x="1473.8" y="916.0">Columbia</text>
<text x="1450.0" y="1074.0">Dutchess</text>
<text x="1301.8" y="1197.0">Orange</text>
<text x="1446.2" y="1184.5">Putnam</text>
<text x="1450.8" y="1282.5">Westchester</text>
<text x="1395.0" y="1392.5">New York</text>
<text x="1483.8" y="1403.2">Nassau</text>
<text x="1400.0" y="1436.8">Kings</text>
<text x="1350.0" y="1463.2">Richmond</text>
<text x="1661.0" y="1353.8">Suffolk</text>
<text x="233.5" y="744.6">Erie</text>
<text x="479.3" y="757.8">Livingston</text>
<text x="637.0" y="732.0">Ontario</text>
<text x="967.4" y="928.5">Broome</text>
</g>
<!--LEGEND-->
<g id="legend">
<circle class="d" cx="330" cy="266" r="3.8"/>
<rect x="288.5" y="309.5" width="83" height="36.5" fill="#fff" stroke="#444" stroke-width="1.6"/>
<text class="lg" transform="translate(378,278.3) scale(1.018,1)" style="font-size:35px">Cooling Centers</text>
<text class="lg" transform="translate(378,339.5) scale(1.018,1)" style="font-size:35px">County Boundaries</text>
<text class="lg" transform="translate(241,1052) scale(1.047,1)">Distance in miles to nearest Cooling Center</text>
<text class="lg" transform="translate(241,1093) scale(1.047,1)">(Population)</text>
<g stroke="#c8c8c0" stroke-width="1">
<rect class="c1" x="238.5" y="1107.7" width="84.5" height="38"/>
<rect class="c2" x="238.5" y="1149.8" width="84.5" height="38"/>
<rect class="c3" x="238.5" y="1192.0" width="84.5" height="38"/>
<rect class="c4" x="238.5" y="1234.1" width="84.5" height="38"/>
<rect class="c5" x="238.5" y="1276.2" width="84.5" height="38"/>
<rect class="c6" x="238.5" y="1318.4" width="84.5" height="38"/>
<rect class="c7" x="238.5" y="1360.5" width="84.5" height="38"/>
</g>
<g class="lg">
<text transform="translate(329.5,1137.7) scale(1.046,1)">0.00 to 0.49</text><text transform="translate(749,1137.7) scale(1.046,1)" text-anchor="end">(3,526,515)</text>
<text transform="translate(329.5,1179.8) scale(1.046,1)">0.50 to 0.99</text><text transform="translate(749,1179.8) scale(1.046,1)" text-anchor="end">(1,245,506)</text>
<text transform="translate(329.5,1222.0) scale(1.046,1)">1.00 to 1.99</text><text transform="translate(749,1222.0) scale(1.046,1)" text-anchor="end">(1,401,588)</text>
<text transform="translate(329.5,1264.1) scale(1.046,1)">2.00 to 4.99</text><text transform="translate(749,1264.1) scale(1.046,1)" text-anchor="end">(2,587,686)</text>
<text transform="translate(329.5,1306.2) scale(1.046,1)">5.00 to 9.99</text><text transform="translate(749,1306.2) scale(1.046,1)" text-anchor="end">(1,509,884)</text>
<text transform="translate(329.5,1348.4) scale(1.046,1)">10.00 to 19.99</text><text transform="translate(749,1348.4) scale(1.046,1)" text-anchor="end">564,585)</text><text transform="translate(567,1348.4) scale(1.046,1)">(</text>
<text transform="translate(329.5,1390.5) scale(1.046,1)">20.00 to 53.17</text><text transform="translate(749,1390.5) scale(1.046,1)" text-anchor="end">312,273)</text><text transform="translate(567,1390.5) scale(1.046,1)">(</text>
</g>
</g>
</svg>
</body></html>
